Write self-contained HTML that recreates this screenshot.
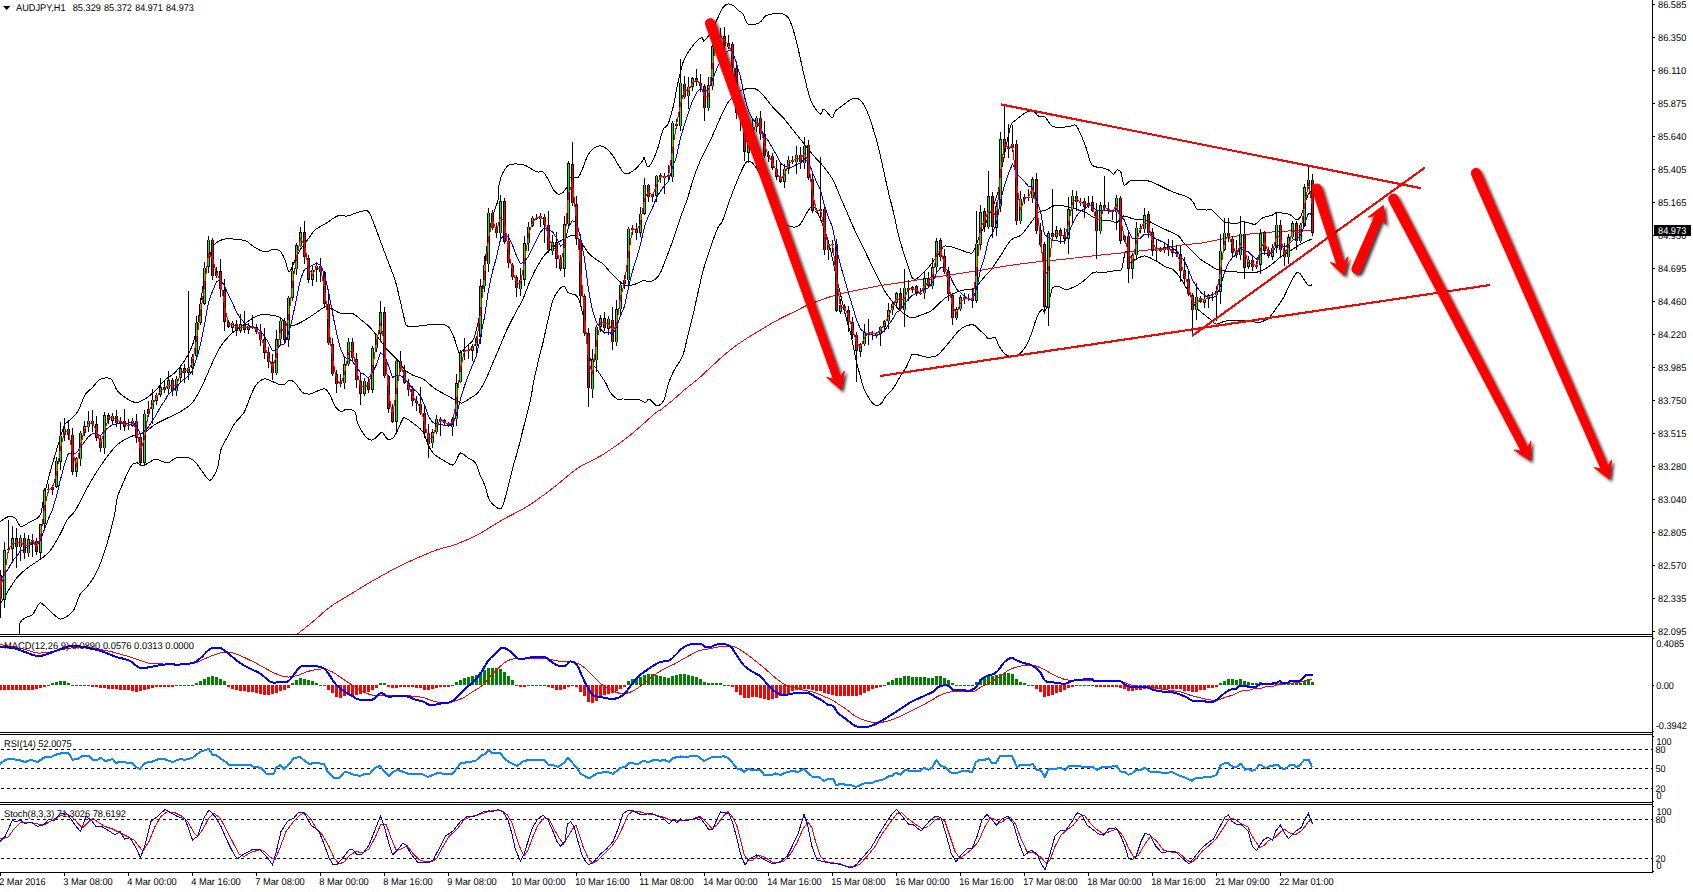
<!DOCTYPE html><html><head><meta charset="utf-8"><title>AUDJPY H1</title>
<style>html,body{margin:0;padding:0;background:#fff;overflow:hidden}svg{display:block}text{font-family:"Liberation Sans",sans-serif;text-rendering:geometricPrecision}</style></head><body>
<svg width="1693" height="892" viewBox="0 0 1693 892">
<defs><filter id="sh" x="-20%" y="-20%" width="150%" height="150%"><feDropShadow dx="2.2" dy="2.2" stdDeviation="1.6" flood-color="#000" flood-opacity="0.8"/></filter>
<clipPath id="cm"><rect x="0" y="0" width="1652" height="634"/></clipPath>
<clipPath id="c1"><rect x="0" y="637" width="1652" height="95"/></clipPath>
<clipPath id="c2"><rect x="0" y="735" width="1652" height="67"/></clipPath>
<clipPath id="c3"><rect x="0" y="805" width="1652" height="67"/></clipPath>
</defs>
<rect width="1693" height="892" fill="#fff"/>
<g clip-path="url(#cm)">
<g fill="none" stroke="#000" stroke-width="1" shape-rendering="crispEdges">
<path d="M0.0 522.0C1.2 521.2 5.0 517.7 7.5 517.0C10.0 516.3 12.8 516.4 15.0 518.0C17.2 519.6 18.5 525.8 21.0 526.5C23.5 527.2 27.2 523.4 30.0 522.0C32.8 520.6 35.7 519.5 37.5 518.0C39.3 516.5 39.9 516.5 41.0 513.0C42.1 509.5 42.8 502.5 44.0 497.0C45.2 491.5 46.5 485.8 48.0 480.0C49.5 474.2 51.3 467.8 53.0 462.0C54.7 456.2 56.2 451.0 58.0 445.0C59.8 439.0 62.4 429.8 64.0 426.0C65.6 422.2 65.2 424.3 67.5 422.0C69.8 419.7 74.6 416.5 77.5 412.0C80.4 407.5 82.5 399.1 85.0 395.0C87.5 390.9 90.0 390.1 92.5 387.5C95.0 384.9 96.9 380.9 100.0 379.5C103.1 378.1 108.1 377.1 111.0 379.0C113.9 380.9 114.8 387.7 117.5 391.0C120.2 394.3 124.4 397.1 127.5 399.0C130.6 400.9 133.1 402.5 136.0 402.5C138.9 402.5 141.8 400.9 145.0 399.0C148.2 397.1 151.7 394.2 155.0 391.0C158.3 387.8 161.7 383.1 165.0 380.0C168.3 376.9 171.7 375.8 175.0 372.5C178.3 369.2 182.1 364.6 185.0 360.0C187.9 355.4 190.4 350.8 192.5 345.0C194.6 339.2 196.1 332.5 197.5 325.0C198.9 317.5 199.8 308.3 201.0 300.0C202.2 291.7 203.5 282.5 205.0 275.0C206.5 267.5 208.3 260.2 210.0 255.0C211.7 249.8 212.5 246.7 215.0 244.0C217.5 241.3 221.2 239.8 225.0 239.0C228.8 238.2 234.0 239.2 237.5 239.5C241.0 239.8 243.1 239.7 246.0 241.0C248.9 242.3 251.8 245.7 255.0 247.5C258.2 249.3 262.1 251.7 265.0 252.0C267.9 252.3 270.0 249.7 272.5 249.5C275.0 249.3 277.9 249.2 280.0 251.0C282.1 252.8 283.5 256.5 285.0 260.0C286.5 263.5 287.5 271.6 289.0 272.0C290.5 272.4 292.2 266.2 294.0 262.5C295.8 258.8 297.8 253.8 300.0 250.0C302.2 246.2 305.0 243.3 307.5 240.0C310.0 236.7 312.1 232.7 315.0 230.0C317.9 227.3 321.2 226.3 325.0 224.0C328.8 221.7 333.8 217.3 337.5 216.0C341.2 214.7 344.2 216.6 347.5 216.0C350.8 215.4 354.2 213.3 357.5 212.5C360.8 211.7 365.0 209.8 367.5 211.0C370.0 212.2 370.4 215.2 372.5 220.0C374.6 224.8 377.5 233.3 380.0 240.0C382.5 246.7 385.0 253.3 387.5 260.0C390.0 266.7 392.9 273.3 395.0 280.0C397.1 286.7 398.5 293.8 400.0 300.0C401.5 306.2 403.0 313.3 404.0 317.5C405.0 321.7 404.8 323.4 406.0 325.0C407.2 326.6 408.2 326.9 411.0 327.0C413.8 327.1 419.3 325.9 423.0 325.5C426.7 325.1 429.7 324.7 433.0 324.5C436.3 324.3 440.3 324.0 443.0 324.5C445.7 325.0 447.2 325.3 449.0 327.5C450.8 329.7 452.3 333.3 454.0 337.5C455.7 341.7 457.5 350.4 459.0 352.5C460.5 354.6 461.5 351.2 463.0 350.0C464.5 348.8 466.3 346.7 468.0 345.0C469.7 343.3 471.5 342.9 473.0 340.0C474.5 337.1 475.8 332.5 477.0 327.5C478.2 322.5 479.5 317.1 480.5 310.0C481.5 302.9 482.2 293.8 483.0 285.0C483.8 276.2 484.2 267.5 485.5 257.5C486.8 247.5 488.8 233.3 490.5 225.0C492.2 216.7 494.2 211.7 495.5 207.5C496.8 203.3 497.4 203.8 498.0 200.0C498.6 196.2 498.2 189.6 499.0 185.0C499.8 180.4 501.3 175.8 503.0 172.5C504.7 169.2 506.7 166.4 509.0 165.0C511.3 163.6 514.2 163.9 517.0 164.0C519.8 164.1 522.8 164.5 525.5 165.5C528.2 166.5 530.9 168.9 533.0 170.0C535.1 171.1 536.3 171.7 538.0 172.0C539.7 172.3 541.3 170.8 543.0 172.0C544.7 173.2 546.3 176.2 548.0 179.0C549.7 181.8 551.3 186.5 553.0 189.0C554.7 191.5 556.3 193.4 558.0 194.0C559.7 194.6 561.3 194.0 563.0 192.5C564.7 191.0 566.8 187.5 568.0 185.0C569.2 182.5 568.8 178.8 570.5 177.5C572.2 176.2 575.9 179.2 578.0 177.5C580.1 175.8 581.3 171.2 583.0 167.5C584.7 163.8 586.2 158.2 588.0 155.0C589.8 151.8 591.9 149.5 594.0 148.0C596.1 146.5 598.3 145.8 600.5 146.0C602.7 146.2 604.9 147.3 607.0 149.0C609.1 150.7 611.0 153.2 613.0 156.0C615.0 158.8 616.9 163.0 619.0 166.0C621.1 169.0 622.8 173.5 625.5 174.0C628.2 174.5 632.6 171.3 635.5 169.0C638.4 166.7 641.6 161.9 643.0 160.0C644.4 158.1 643.2 156.3 644.0 157.5C644.8 158.7 646.5 166.6 648.0 167.0C649.5 167.4 651.3 163.2 653.0 160.0C654.7 156.8 656.3 152.5 658.0 147.5C659.7 142.5 661.3 133.9 663.0 130.0C664.7 126.1 666.3 127.8 668.0 124.0C669.7 120.2 671.3 114.4 673.0 107.5C674.7 100.6 676.3 90.0 678.0 82.5C679.7 75.0 681.3 67.5 683.0 62.5C684.7 57.5 685.9 55.8 688.0 52.5C690.1 49.2 693.2 45.0 695.5 42.5C697.8 40.0 700.6 37.8 702.0 37.5C703.4 37.2 702.6 41.8 704.0 41.0C705.4 40.2 708.2 36.4 710.5 32.5C712.8 28.6 715.9 21.7 718.0 17.5C720.1 13.3 721.3 9.8 723.0 7.5C724.7 5.2 726.2 4.2 728.0 4.0C729.8 3.8 732.2 4.8 734.0 6.0C735.8 7.2 737.5 9.7 739.0 11.0C740.5 12.3 741.5 11.8 743.0 14.0C744.5 16.2 745.3 22.5 748.0 24.0C750.7 25.5 756.1 24.3 759.0 23.0C761.9 21.7 763.3 17.5 765.5 16.0C767.7 14.5 769.1 14.3 772.0 14.0C774.9 13.7 780.2 13.2 783.0 14.0C785.8 14.8 787.2 15.9 789.0 19.0C790.8 22.1 792.3 26.9 794.0 32.5C795.7 38.1 797.3 45.4 799.0 52.5C800.7 59.6 802.3 67.9 804.0 75.0C805.7 82.1 807.5 90.0 809.0 95.0C810.5 100.0 811.1 101.8 813.0 105.0C814.9 108.2 818.7 113.3 820.5 114.0C822.3 114.7 822.1 108.4 824.0 109.0C825.9 109.6 830.1 117.2 832.0 117.5C833.9 117.8 833.2 113.4 835.5 111.0C837.8 108.6 843.2 105.0 846.0 103.0C848.8 101.0 849.9 99.7 852.0 99.0C854.1 98.3 856.6 98.2 858.5 99.0C860.4 99.8 861.8 101.3 863.5 104.0C865.2 106.7 866.8 110.7 868.5 115.0C870.2 119.3 871.8 124.6 873.5 130.0C875.2 135.4 876.8 140.8 878.5 147.5C880.2 154.2 881.8 162.5 883.5 170.0C885.2 177.5 886.8 185.4 888.5 192.5C890.2 199.6 891.8 205.4 893.5 212.5C895.2 219.6 896.8 228.3 898.5 235.0C900.2 241.7 901.8 247.1 903.5 252.5C905.2 257.9 907.1 263.3 908.5 267.5C909.9 271.7 910.8 275.6 912.0 277.5C913.2 279.4 914.5 279.4 916.0 279.0C917.5 278.6 918.9 276.9 921.0 275.0C923.1 273.1 926.0 270.4 928.5 267.5C931.0 264.6 933.9 260.4 936.0 257.5C938.1 254.6 939.5 251.9 941.0 250.0C942.5 248.1 942.9 246.4 945.0 246.0C947.1 245.6 950.4 246.7 953.5 247.5C956.6 248.3 960.4 250.1 963.5 251.0C966.6 251.9 969.9 254.0 972.0 253.0C974.1 252.0 974.7 248.0 976.0 245.0C977.3 242.0 978.3 238.8 980.0 235.0C981.7 231.2 983.8 227.5 986.0 222.5C988.2 217.5 991.4 210.4 993.5 205.0C995.6 199.6 997.1 196.2 998.5 190.0C999.9 183.8 1000.6 175.4 1002.0 167.5C1003.4 159.6 1005.5 149.6 1007.0 142.5C1008.5 135.4 1009.5 128.8 1011.0 125.0C1012.5 121.2 1013.9 121.8 1016.0 120.0C1018.1 118.2 1021.2 115.5 1023.5 114.0C1025.8 112.5 1028.3 111.5 1030.0 111.0C1031.7 110.5 1032.1 110.2 1033.5 111.0C1034.9 111.8 1036.6 115.0 1038.5 116.0C1040.4 117.0 1042.8 115.3 1045.0 117.0C1047.2 118.7 1049.3 124.2 1052.0 126.0C1054.7 127.8 1057.8 127.5 1061.0 127.5C1064.2 127.5 1068.5 126.3 1071.0 126.0C1073.5 125.7 1074.3 124.0 1076.0 125.5C1077.7 127.0 1079.3 131.3 1081.0 135.0C1082.7 138.7 1084.2 142.5 1086.0 147.5C1087.8 152.5 1089.5 161.7 1092.0 165.0C1094.5 168.3 1098.2 166.7 1101.0 167.5C1103.8 168.3 1106.4 168.9 1108.5 170.0C1110.6 171.1 1112.1 174.0 1113.5 174.0C1114.9 174.0 1115.8 170.2 1117.0 170.0C1118.2 169.8 1119.8 170.0 1121.0 172.5C1122.2 175.0 1122.5 183.6 1124.0 185.0C1125.5 186.4 1127.6 181.8 1130.0 181.0C1132.4 180.2 1135.4 180.0 1138.5 180.0C1141.6 180.0 1145.2 180.2 1148.5 181.0C1151.8 181.8 1155.2 183.5 1158.5 185.0C1161.8 186.5 1165.2 188.5 1168.5 190.0C1171.8 191.5 1175.2 192.8 1178.5 194.0C1181.8 195.2 1186.0 196.1 1188.5 197.5C1191.0 198.9 1192.1 200.6 1193.5 202.5C1194.9 204.4 1194.9 207.8 1197.0 209.0C1199.1 210.2 1203.5 209.8 1206.0 210.0C1208.5 210.2 1210.0 209.2 1211.8 210.0C1213.6 210.8 1214.8 212.8 1216.8 214.7C1218.8 216.6 1221.2 220.0 1223.5 221.4C1225.8 222.8 1228.2 222.6 1230.3 223.0C1232.4 223.4 1234.0 223.9 1236.0 223.6C1238.0 223.3 1239.9 221.5 1242.0 221.4C1244.1 221.3 1246.6 222.5 1248.7 223.0C1250.8 223.5 1253.0 224.4 1254.6 224.3C1256.1 224.2 1256.9 223.2 1258.0 222.3C1259.1 221.4 1259.8 219.6 1261.3 218.6C1262.8 217.6 1265.4 217.0 1267.2 216.4C1269.0 215.8 1270.8 215.8 1272.3 215.2C1273.8 214.5 1275.0 212.9 1276.5 212.5C1278.0 212.1 1279.7 212.8 1281.5 213.0C1283.3 213.2 1285.7 213.5 1287.4 213.9C1289.1 214.3 1290.3 214.7 1291.6 215.5C1292.9 216.3 1294.0 218.3 1295.0 219.0C1296.0 219.7 1296.5 220.1 1297.5 219.7C1298.5 219.3 1299.8 218.2 1300.8 216.4C1301.8 214.6 1302.6 211.5 1303.4 208.8C1304.2 206.1 1305.1 202.8 1305.9 200.4C1306.7 198.0 1307.6 196.1 1308.4 194.5C1309.2 192.9 1310.6 191.6 1311.0 191.0"/>
<path d="M0.0 604.5C1.2 602.4 4.6 596.6 7.5 592.0C10.4 587.4 14.2 581.0 17.5 577.0C20.8 573.0 23.8 570.9 27.5 568.0C31.2 565.1 36.2 562.3 40.0 559.5C43.8 556.7 46.7 555.2 50.0 551.0C53.3 546.8 57.1 539.8 60.0 534.5C62.9 529.2 65.0 523.4 67.5 519.5C70.0 515.6 72.1 515.6 75.0 511.0C77.9 506.4 81.7 498.1 85.0 492.0C88.3 485.9 91.7 479.9 95.0 474.5C98.3 469.1 101.7 464.1 105.0 459.5C108.3 454.9 112.1 450.1 115.0 447.0C117.9 443.9 119.6 442.8 122.5 441.0C125.4 439.2 128.8 437.5 132.5 436.0C136.2 434.5 141.2 433.9 145.0 432.0C148.8 430.1 151.2 426.8 155.0 424.5C158.8 422.2 163.5 420.0 167.5 418.0C171.5 416.0 174.8 415.1 179.0 412.5C183.2 409.9 188.6 407.1 192.5 402.5C196.4 397.9 199.2 391.7 202.5 385.0C205.8 378.3 209.6 368.8 212.5 362.5C215.4 356.2 217.1 352.1 220.0 347.5C222.9 342.9 226.7 338.3 230.0 335.0C233.3 331.7 236.7 330.0 240.0 327.5C243.3 325.0 246.7 322.1 250.0 320.0C253.3 317.9 256.7 315.8 260.0 315.0C263.3 314.2 266.7 314.6 270.0 315.0C273.3 315.4 277.1 315.8 280.0 317.5C282.9 319.2 285.0 323.8 287.5 325.0C290.0 326.2 292.1 325.8 295.0 325.0C297.9 324.2 301.7 321.9 305.0 320.0C308.3 318.1 311.7 315.7 315.0 313.5C318.3 311.3 322.1 307.8 325.0 307.0C327.9 306.2 330.0 308.0 332.5 309.0C335.0 310.0 336.7 312.2 340.0 313.0C343.3 313.8 349.2 312.5 352.5 313.5C355.8 314.5 357.1 316.7 360.0 319.0C362.9 321.3 366.7 324.0 370.0 327.5C373.3 331.0 377.1 336.2 380.0 340.0C382.9 343.8 384.6 346.7 387.5 350.0C390.4 353.3 394.6 356.7 397.5 360.0C400.4 363.3 402.5 367.5 405.0 370.0C407.5 372.5 409.5 373.5 412.5 375.0C415.5 376.5 419.2 376.7 423.0 379.0C426.8 381.3 431.3 386.2 435.5 389.0C439.7 391.8 444.4 394.0 448.0 396.0C451.6 398.0 454.7 399.8 457.0 401.0C459.3 402.2 460.0 403.3 462.0 403.0C464.0 402.7 466.3 400.8 469.0 399.0C471.7 397.2 475.2 395.7 478.0 392.5C480.8 389.3 483.0 385.0 485.5 380.0C488.0 375.0 490.5 368.3 493.0 362.5C495.5 356.7 498.0 350.8 500.5 345.0C503.0 339.2 505.2 333.3 508.0 327.5C510.8 321.7 514.5 314.8 517.0 310.0C519.5 305.2 520.8 304.0 523.0 299.0C525.2 294.0 528.0 285.7 530.5 280.0C533.0 274.3 535.5 269.3 538.0 265.0C540.5 260.7 543.0 256.9 545.5 254.0C548.0 251.1 550.5 249.7 553.0 247.5C555.5 245.3 558.0 242.8 560.5 241.0C563.0 239.2 565.8 237.9 568.0 237.0C570.2 236.1 571.9 234.8 574.0 235.5C576.1 236.2 578.2 238.2 580.5 241.0C582.8 243.8 585.5 249.5 588.0 252.5C590.5 255.5 593.0 257.1 595.5 259.0C598.0 260.9 600.5 261.8 603.0 264.0C605.5 266.2 608.2 270.0 610.5 272.5C612.8 275.0 614.9 277.1 617.0 279.0C619.1 280.9 621.2 282.8 623.0 284.0C624.8 285.2 625.9 286.0 628.0 286.0C630.1 286.0 632.8 284.9 635.5 284.0C638.2 283.1 641.8 280.8 644.0 280.5C646.2 280.2 647.1 282.2 649.0 282.0C650.9 281.8 653.6 280.6 655.5 279.0C657.4 277.4 658.8 275.7 660.5 272.5C662.2 269.3 663.4 265.4 665.5 260.0C667.6 254.6 670.5 247.1 673.0 240.0C675.5 232.9 678.2 224.2 680.5 217.5C682.8 210.8 684.9 206.2 687.0 200.0C689.1 193.8 690.8 186.7 693.0 180.0C695.2 173.3 697.6 166.7 700.5 160.0C703.4 153.3 707.2 147.1 710.5 140.0C713.8 132.9 717.6 123.8 720.5 117.5C723.4 111.2 725.1 106.7 728.0 102.5C730.9 98.3 735.1 94.8 738.0 92.5C740.9 90.2 742.6 89.6 745.5 89.0C748.4 88.4 752.6 88.0 755.5 89.0C758.4 90.0 760.1 91.9 763.0 95.0C765.9 98.1 769.7 103.8 773.0 107.5C776.3 111.2 779.7 113.8 783.0 117.5C786.3 121.2 789.7 125.8 793.0 130.0C796.3 134.2 799.7 138.3 803.0 142.5C806.3 146.7 809.7 151.1 813.0 155.0C816.3 158.9 819.7 161.8 823.0 166.0C826.3 170.2 830.1 174.8 833.0 180.0C835.9 185.2 838.3 192.5 840.5 197.5C842.7 202.5 843.8 205.0 846.0 210.0C848.2 215.0 851.0 222.0 853.5 227.5C856.0 233.0 858.5 237.8 861.0 243.0C863.5 248.2 866.0 253.3 868.5 258.5C871.0 263.7 873.5 268.9 876.0 274.0C878.5 279.1 881.0 284.7 883.5 289.0C886.0 293.3 888.5 296.7 891.0 300.0C893.5 303.3 896.0 306.5 898.5 309.0C901.0 311.5 903.8 313.5 906.0 315.0C908.2 316.5 909.5 318.0 912.0 318.0C914.5 318.0 917.8 316.2 921.0 315.0C924.2 313.8 928.1 312.8 931.0 311.0C933.9 309.2 936.0 306.2 938.5 304.0C941.0 301.8 943.1 299.4 946.0 297.5C948.9 295.6 952.7 293.8 956.0 292.5C959.3 291.2 963.1 290.1 966.0 289.5C968.9 288.9 971.4 289.9 973.5 289.0C975.6 288.1 976.4 286.3 978.5 284.0C980.6 281.7 983.9 277.3 986.0 275.0C988.1 272.7 988.5 273.3 991.0 270.0C993.5 266.7 997.7 260.0 1001.0 255.0C1004.3 250.0 1007.7 243.3 1011.0 240.0C1014.3 236.7 1017.7 237.9 1021.0 235.0C1024.3 232.1 1028.1 226.2 1031.0 222.5C1033.9 218.8 1036.0 214.6 1038.5 212.5C1041.0 210.4 1043.5 211.1 1046.0 210.0C1048.5 208.9 1050.6 206.7 1053.5 206.0C1056.4 205.3 1060.6 205.8 1063.5 206.0C1066.4 206.2 1068.5 206.8 1071.0 207.5C1073.5 208.2 1076.0 209.2 1078.5 210.0C1081.0 210.8 1083.5 211.2 1086.0 212.5C1088.5 213.8 1091.0 216.2 1093.5 217.5C1096.0 218.8 1098.1 219.4 1101.0 220.0C1103.9 220.6 1108.3 220.6 1111.0 221.0C1113.7 221.4 1114.9 223.3 1117.0 222.5C1119.1 221.7 1120.8 216.6 1123.5 216.0C1126.2 215.4 1129.8 218.3 1133.5 219.0C1137.2 219.7 1142.2 219.0 1146.0 220.0C1149.8 221.0 1152.2 223.2 1156.0 225.0C1159.8 226.8 1164.8 229.2 1168.5 231.0C1172.2 232.8 1176.0 234.1 1178.5 236.0C1181.0 237.9 1181.4 240.2 1183.5 242.5C1185.6 244.8 1188.2 247.2 1191.0 250.0C1193.8 252.8 1197.1 256.6 1200.0 259.0C1202.9 261.4 1205.6 262.6 1208.4 264.3C1211.2 266.0 1214.0 268.2 1216.8 269.3C1219.6 270.4 1222.4 270.6 1225.2 271.0C1228.0 271.4 1230.5 271.6 1233.6 271.8C1236.7 272.0 1240.3 272.2 1243.7 272.4C1247.1 272.5 1251.0 272.9 1253.8 272.7C1256.6 272.5 1258.3 271.9 1260.5 271.0C1262.7 270.1 1265.0 269.0 1267.2 267.6C1269.4 266.2 1271.7 264.4 1273.9 262.6C1276.2 260.8 1278.5 258.4 1280.7 256.7C1283.0 255.0 1285.2 253.9 1287.4 252.5C1289.6 251.1 1291.9 249.7 1294.1 248.3C1296.3 246.9 1298.5 245.3 1300.8 244.1C1303.0 242.8 1305.8 241.6 1307.6 240.8C1309.4 240.0 1311.1 239.4 1311.8 239.1"/>
<path d="M19.0 634.5C19.2 632.6 19.0 625.8 20.0 623.0C21.0 620.2 22.9 619.4 25.0 618.0C27.1 616.6 30.4 616.5 32.5 614.5C34.6 612.5 36.1 607.9 37.5 606.0C38.9 604.1 38.9 602.2 41.0 603.0C43.1 603.8 46.8 608.3 50.0 611.0C53.2 613.7 57.1 618.2 60.0 619.0C62.9 619.8 65.2 617.6 67.5 616.0C69.8 614.4 71.9 613.1 74.0 609.5C76.1 605.9 78.0 598.1 80.0 594.5C82.0 590.9 83.7 590.9 86.0 588.0C88.3 585.1 91.5 581.3 94.0 577.0C96.5 572.7 98.8 567.8 101.0 562.0C103.2 556.2 105.3 549.5 107.5 542.0C109.7 534.5 112.3 524.5 114.0 517.0C115.7 509.5 116.1 502.4 117.5 497.0C118.9 491.6 120.8 488.5 122.5 484.5C124.2 480.5 125.8 476.3 127.5 473.0C129.2 469.7 130.8 466.2 132.5 464.5C134.2 462.8 135.9 462.8 137.5 463.0C139.1 463.2 139.9 466.2 142.0 466.0C144.1 465.8 147.7 463.2 150.0 462.0C152.3 460.8 153.1 458.8 156.0 459.0C158.9 459.2 164.2 463.2 167.5 463.0C170.8 462.8 172.4 458.8 176.0 458.0C179.6 457.2 185.7 457.2 189.0 458.0C192.3 458.8 193.8 460.7 196.0 463.0C198.2 465.3 200.3 469.2 202.5 472.0C204.7 474.8 207.3 479.0 209.0 480.0C210.7 481.0 211.1 480.0 212.5 478.0C213.9 476.0 216.1 472.8 217.5 468.0C218.9 463.2 219.3 454.7 221.0 449.5C222.7 444.3 225.2 441.4 227.5 437.0C229.8 432.6 232.2 427.1 235.0 423.0C237.8 418.9 241.5 416.8 244.0 412.5C246.5 408.2 248.0 402.1 250.0 397.5C252.0 392.9 253.7 388.1 256.0 385.0C258.3 381.9 261.5 379.7 264.0 379.0C266.5 378.3 267.9 380.0 271.0 381.0C274.1 382.0 279.3 385.2 282.5 385.0C285.7 384.8 287.8 380.2 290.0 380.0C292.2 379.8 293.9 381.9 296.0 384.0C298.1 386.1 300.2 390.8 302.5 392.5C304.8 394.2 307.5 394.2 310.0 394.0C312.5 393.8 315.0 391.8 317.5 391.0C320.0 390.2 322.9 388.3 325.0 389.0C327.1 389.7 328.3 392.2 330.0 395.0C331.7 397.8 333.2 403.2 335.0 406.0C336.8 408.8 339.0 411.0 341.0 411.5C343.0 412.0 344.7 408.9 347.0 409.0C349.3 409.1 353.2 409.7 355.0 412.0C356.8 414.3 355.7 418.8 357.5 423.0C359.3 427.2 363.5 434.2 366.0 437.0C368.5 439.8 370.3 440.4 372.5 440.0C374.7 439.6 377.3 435.8 379.0 434.5C380.7 433.2 381.1 431.8 382.5 432.5C383.9 433.2 385.6 438.2 387.5 439.0C389.4 439.8 391.5 440.2 394.0 437.0C396.5 433.8 400.7 422.7 402.5 419.5C404.3 416.3 402.9 417.2 405.0 418.0C407.1 418.8 412.0 422.2 415.0 424.5C418.0 426.8 420.8 428.7 423.0 432.0C425.2 435.3 426.3 441.0 428.0 444.5C429.7 448.0 430.7 450.5 433.0 453.0C435.3 455.5 438.8 457.5 442.0 459.5C445.2 461.5 449.8 464.6 452.0 465.0C454.2 465.4 454.1 464.0 455.5 462.0C456.9 460.0 458.4 453.7 460.5 453.0C462.6 452.3 465.5 456.3 468.0 458.0C470.5 459.7 473.4 460.0 475.5 463.0C477.6 466.0 478.8 472.0 480.5 476.0C482.2 480.0 484.2 483.3 485.5 487.0C486.8 490.7 487.2 495.1 488.5 498.0C489.8 500.9 491.0 502.7 493.0 504.5C495.0 506.3 498.7 509.4 500.5 509.0C502.3 508.6 502.8 505.7 504.0 502.0C505.2 498.3 506.5 492.8 508.0 487.0C509.5 481.2 511.3 473.2 513.0 467.0C514.7 460.8 516.3 455.8 518.0 449.5C519.7 443.2 521.4 435.8 523.0 429.5C524.6 423.2 526.2 416.9 527.5 412.0C528.8 407.1 529.4 405.3 530.5 400.0C531.6 394.7 532.8 386.2 534.0 380.0C535.2 373.8 536.5 368.8 538.0 362.5C539.5 356.2 541.3 349.6 543.0 342.5C544.7 335.4 546.3 327.1 548.0 320.0C549.7 312.9 551.3 304.8 553.0 300.0C554.7 295.2 556.2 293.3 558.0 291.0C559.8 288.7 562.3 285.8 564.0 286.0C565.7 286.2 566.1 291.0 568.0 292.5C569.9 294.0 573.7 293.8 575.5 295.0C577.3 296.2 577.8 296.7 579.0 300.0C580.2 303.3 581.7 308.3 583.0 315.0C584.3 321.7 585.8 332.5 587.0 340.0C588.2 347.5 589.1 355.4 590.5 360.0C591.9 364.6 593.8 365.0 595.5 367.5C597.2 370.0 598.8 372.5 600.5 375.0C602.2 377.5 603.8 379.6 605.5 382.5C607.2 385.4 608.6 389.8 610.5 392.5C612.4 395.2 614.9 397.9 617.0 399.0C619.1 400.1 619.5 398.9 623.0 399.0C626.5 399.1 634.2 398.9 638.0 399.5C641.8 400.1 643.7 402.6 645.5 402.5C647.3 402.4 647.3 398.6 649.0 399.0C650.7 399.4 653.8 403.9 655.5 405.0C657.2 406.1 657.6 406.3 659.0 405.5C660.4 404.7 662.5 403.4 664.0 400.0C665.5 396.6 666.5 389.6 668.0 385.0C669.5 380.4 671.3 376.0 673.0 372.5C674.7 369.0 676.3 366.9 678.0 364.0C679.7 361.1 681.3 359.8 683.0 355.0C684.7 350.2 686.3 341.7 688.0 335.0C689.7 328.3 691.3 322.1 693.0 315.0C694.7 307.9 696.2 300.4 698.0 292.5C699.8 284.6 701.9 275.0 704.0 267.5C706.1 260.0 708.2 254.2 710.5 247.5C712.8 240.8 716.1 231.8 718.0 227.5C719.9 223.2 720.3 225.8 722.0 222.0C723.7 218.2 725.8 211.2 728.0 205.0C730.2 198.8 733.0 191.2 735.5 185.0C738.0 178.8 740.9 171.5 743.0 167.5C745.1 163.5 746.0 161.2 748.0 161.0C750.0 160.8 752.2 162.0 755.0 166.0C757.8 170.0 761.3 177.2 765.0 185.0C768.7 192.8 773.3 206.3 777.0 213.0C780.7 219.7 783.9 222.7 787.0 225.0C790.1 227.3 793.2 227.2 795.5 227.0C797.8 226.8 798.8 226.0 800.5 224.0C802.2 222.0 803.8 217.8 805.5 215.0C807.2 212.2 809.1 208.8 810.5 207.5C811.9 206.2 812.4 205.2 814.0 207.0C815.6 208.8 817.7 212.5 820.0 218.0C822.3 223.5 825.3 230.5 828.0 240.0C830.7 249.5 833.5 264.2 836.0 275.0C838.5 285.8 841.0 296.7 843.0 305.0C845.0 313.3 846.7 320.0 848.0 325.0C849.3 330.0 849.7 329.2 851.0 335.0C852.3 340.8 854.5 353.3 856.0 360.0C857.5 366.7 858.8 370.4 860.0 375.0C861.2 379.6 862.1 383.8 863.5 387.5C864.9 391.2 866.8 394.8 868.5 397.5C870.2 400.2 871.8 402.7 873.5 404.0C875.2 405.3 877.1 405.8 878.5 405.5C879.9 405.2 880.8 404.1 882.0 402.5C883.2 400.9 884.3 398.1 886.0 396.0C887.7 393.9 890.3 392.0 892.0 390.0C893.7 388.0 894.5 386.5 896.0 384.0C897.5 381.5 899.3 377.8 901.0 375.0C902.7 372.2 904.5 370.2 906.0 367.5C907.5 364.8 909.0 361.2 910.0 359.0C911.0 356.8 910.6 355.2 912.0 354.5C913.4 353.8 916.2 354.6 918.5 355.0C920.8 355.4 923.1 356.8 926.0 357.0C928.9 357.2 933.1 357.3 936.0 356.0C938.9 354.7 941.0 351.7 943.5 349.0C946.0 346.3 948.5 343.0 951.0 340.0C953.5 337.0 956.0 333.3 958.5 331.0C961.0 328.7 963.5 327.0 966.0 326.0C968.5 325.0 971.4 324.5 973.5 325.0C975.6 325.5 976.6 327.3 978.5 329.0C980.4 330.7 983.2 333.3 985.0 335.0C986.8 336.7 987.3 338.6 989.0 339.0C990.7 339.4 993.4 336.5 995.0 337.5C996.6 338.5 997.1 342.5 998.5 345.0C999.9 347.5 1001.8 350.7 1003.5 352.5C1005.2 354.3 1006.4 355.4 1008.5 356.0C1010.6 356.6 1013.9 356.6 1016.0 356.0C1018.1 355.4 1019.3 354.2 1021.0 352.5C1022.7 350.8 1024.3 348.9 1026.0 346.0C1027.7 343.1 1029.5 338.9 1031.0 335.0C1032.5 331.1 1033.8 326.0 1035.0 322.5C1036.2 319.0 1037.3 316.2 1038.5 314.0C1039.7 311.8 1040.9 310.0 1042.0 309.5C1043.1 309.0 1043.7 313.0 1045.0 311.0C1046.3 309.0 1048.8 301.2 1050.0 297.5C1051.2 293.8 1050.8 290.9 1052.0 289.0C1053.2 287.1 1054.7 285.9 1057.0 286.0C1059.3 286.1 1062.8 289.5 1066.0 289.5C1069.2 289.5 1073.1 287.4 1076.0 286.0C1078.9 284.6 1080.6 283.2 1083.5 281.0C1086.4 278.8 1090.2 273.9 1093.5 272.5C1096.8 271.1 1100.2 272.8 1103.5 272.5C1106.8 272.2 1110.6 271.4 1113.5 271.0C1116.4 270.6 1119.3 271.8 1121.0 270.0C1122.7 268.2 1122.7 263.2 1123.5 260.0C1124.3 256.8 1124.9 250.7 1126.0 251.0C1127.1 251.3 1128.3 260.7 1130.0 262.0C1131.7 263.3 1133.5 260.0 1136.0 259.0C1138.5 258.0 1141.7 255.7 1145.0 256.0C1148.3 256.3 1152.5 259.2 1156.0 261.0C1159.5 262.8 1163.1 265.5 1166.0 267.0C1168.9 268.5 1171.2 268.2 1173.5 270.0C1175.8 271.8 1177.9 274.6 1180.0 277.5C1182.1 280.4 1184.0 283.9 1186.0 287.5C1188.0 291.1 1190.3 295.7 1192.0 299.0C1193.7 302.3 1194.1 305.0 1196.0 307.5C1197.9 310.0 1201.0 311.9 1203.5 314.0C1206.0 316.1 1208.9 318.3 1211.0 320.0C1213.1 321.7 1214.3 323.6 1216.0 324.0C1217.7 324.4 1218.9 323.1 1221.0 322.5C1223.1 321.9 1225.6 320.8 1228.5 320.5C1231.4 320.2 1235.2 320.4 1238.5 320.5C1241.8 320.6 1245.2 320.7 1248.5 321.0C1251.8 321.3 1256.0 322.5 1258.5 322.5C1261.0 322.5 1261.8 321.8 1263.5 321.0C1265.2 320.2 1267.1 319.8 1269.0 318.0C1270.9 316.2 1272.8 313.1 1275.0 310.0C1277.2 306.9 1280.3 303.0 1282.4 299.6C1284.5 296.2 1285.7 292.9 1287.4 289.5C1289.1 286.1 1290.9 282.2 1292.4 279.4C1293.9 276.6 1295.3 273.7 1296.6 272.7C1297.9 271.7 1298.9 272.5 1300.0 273.5C1301.1 274.5 1302.1 276.8 1303.4 278.6C1304.7 280.4 1306.5 283.3 1307.6 284.5C1308.7 285.7 1309.3 285.8 1310.0 285.8C1310.7 285.9 1311.5 285.0 1311.8 284.8"/>
</g>
<path fill="none" stroke="#f00" stroke-width="1" shape-rendering="crispEdges" d="M297.5 634.0C300.0 632.0 307.1 626.5 312.5 622.0C317.9 617.5 323.8 611.6 330.0 607.0C336.2 602.4 342.5 599.1 350.0 594.5C357.5 589.9 366.7 584.2 375.0 579.5C383.3 574.8 392.0 570.0 400.0 566.0C408.0 562.0 416.7 558.2 423.0 555.5C429.3 552.8 432.6 551.3 438.0 549.5C443.4 547.7 448.8 547.0 455.5 544.5C462.2 542.0 470.1 538.7 478.0 534.5C485.9 530.3 494.7 524.2 503.0 519.5C511.3 514.8 519.7 511.2 528.0 506.0C536.3 500.8 544.7 494.3 553.0 488.0C561.3 481.7 569.7 473.6 578.0 468.0C586.3 462.4 594.7 459.7 603.0 454.5C611.3 449.3 619.2 443.9 628.0 437.0C636.8 430.1 650.1 417.5 655.5 413.0C660.9 408.5 657.6 412.2 660.5 410.0C663.4 407.8 668.8 403.5 673.0 400.0C677.2 396.5 681.3 392.5 685.5 389.0C689.7 385.5 693.8 382.6 698.0 379.0C702.2 375.4 706.3 371.3 710.5 367.5C714.7 363.7 718.8 359.6 723.0 356.0C727.2 352.4 731.3 349.1 735.5 346.0C739.7 342.9 743.8 340.2 748.0 337.5C752.2 334.8 756.3 332.5 760.5 330.0C764.7 327.5 768.8 324.8 773.0 322.5C777.2 320.2 781.3 318.1 785.5 316.0C789.7 313.9 794.7 311.7 798.0 310.0C801.3 308.3 802.6 307.3 805.5 306.0C808.4 304.7 811.8 303.4 815.5 302.0C819.2 300.6 824.2 298.8 828.0 297.5C831.8 296.2 835.0 295.3 838.0 294.5C841.0 293.7 839.2 293.9 846.0 292.5C852.8 291.1 867.7 287.9 878.5 286.0C889.3 284.1 899.8 282.8 911.0 281.0C922.2 279.2 935.2 277.2 946.0 275.5C956.8 273.8 966.0 272.6 976.0 271.0C986.0 269.4 996.0 267.5 1006.0 266.0C1016.0 264.5 1026.0 263.2 1036.0 262.0C1046.0 260.8 1056.0 260.1 1066.0 259.0C1076.0 257.9 1086.0 256.6 1096.0 255.5C1106.0 254.4 1116.0 253.6 1126.0 252.5C1136.0 251.4 1146.0 250.3 1156.0 249.0C1166.0 247.7 1178.7 245.4 1186.0 244.5C1193.3 243.6 1194.9 244.1 1200.0 243.3C1205.1 242.6 1211.2 241.1 1216.8 240.0C1222.4 238.9 1228.0 237.6 1233.6 236.6C1239.2 235.6 1244.8 234.7 1250.4 234.0C1256.0 233.3 1261.6 232.9 1267.2 232.4C1272.8 231.9 1278.4 231.5 1284.0 231.2C1289.6 230.9 1296.0 230.8 1300.8 230.7C1305.6 230.5 1310.6 230.4 1312.6 230.3"/>
<g shape-rendering="crispEdges">
<path d="M0.5 570.0V618.0M4.5 541.5V608.0M8.5 520.0V551.0M12.5 526.0V563.0M16.5 528.0V568.0M20.5 534.5V561.0M24.5 533.0V559.0M28.5 535.0V556.5M32.5 533.7V557.0M36.5 537.6V555.0M40.5 523.5V560.0M44.5 488.0V530.6M48.5 484.4V493.3M52.5 485.4V494.9M56.5 456.5V488.2M60.5 422.3V469.5M64.5 417.6V440.7M68.5 421.6V439.6M72.5 427.6V474.8M76.5 456.8V477.4M80.5 430.5V465.6M84.5 420.5V435.5M88.5 411.1V431.8M92.5 410.1V432.4M96.5 416.4V441.2M100.5 435.1V452.4M104.5 412.1V454.0M108.5 412.5V424.4M112.5 413.2V424.9M116.5 410.3V426.8M120.5 417.1V430.4M124.5 408.8V430.9M128.5 419.3V430.4M132.5 417.9V427.4M136.5 414.1V443.4M140.5 434.2V465.9M144.5 409.5V465.4M148.5 400.8V417.0M152.5 388.7V424.1M156.5 392.6V404.6M160.5 377.6V396.9M164.5 379.6V393.2M168.5 371.2V394.9M172.5 377.8V396.4M176.5 375.5V395.5M180.5 365.5V382.4M184.5 363.8V383.0M188.5 291.0V379.6M192.5 354.3V374.9M196.5 315.8V358.5M200.5 297.5V325.0M204.5 261.9V305.4M208.5 235.5V273.1M212.5 237.5V279.6M216.5 266.7V277.7M220.5 258.7V297.2M224.5 278.5V330.5M228.5 319.5V327.9M232.5 320.7V331.7M236.5 319.9V335.9M240.5 313.6V332.9M244.5 310.8V332.9M248.5 322.7V334.2M252.5 315.1V329.1M256.5 323.5V334.0M260.5 324.1V346.1M264.5 327.5V359.4M268.5 346.7V368.4M272.5 353.6V380.0M276.5 329.5V375.4M280.5 316.7V346.4M284.5 318.1V342.1M288.5 295.6V347.3M292.5 262.4V301.2M296.5 242.7V274.7M300.5 226.9V247.2M304.5 220.8V263.6M308.5 255.4V282.7M312.5 265.8V285.7M316.5 262.2V282.0M320.5 257.6V282.1M324.5 271.2V307.2M328.5 292.4V344.7M332.5 337.5V375.5M336.5 369.6V393.4M340.5 374.1V387.4M344.5 358.4V388.8M348.5 338.0V365.5M352.5 337.6V361.1M356.5 353.3V387.7M360.5 372.8V404.5M364.5 378.0V395.6M368.5 377.1V393.2M372.5 346.4V392.7M376.5 333.6V351.9M380.5 300.5V340.9M384.5 307.1V377.7M388.5 374.7V413.3M392.5 404.2V423.2M396.5 358.3V432.3M400.5 350.7V371.8M404.5 364.8V383.8M408.5 378.6V396.3M412.5 386.2V405.7M416.5 395.9V411.3M420.5 387.3V415.1M424.5 403.9V437.6M428.5 424.0V458.0M432.5 428.9V448.0M436.5 414.6V434.0M440.5 416.8V436.2M444.5 418.5V425.1M448.5 421.6V427.3M452.5 416.6V436.0M456.5 373.5V425.5M460.5 350.0V383.3M464.5 337.5V360.2M468.5 344.0V358.7M472.5 344.2V360.6M476.5 335.7V354.8M480.5 279.1V344.4M484.5 255.7V292.3M488.5 208.2V272.0M492.5 210.2V230.0M496.5 222.8V238.3M500.5 194.6V240.0M504.5 198.4V243.5M508.5 234.3V268.1M512.5 263.4V280.1M516.5 275.0V297.0M520.5 268.0V295.7M524.5 236.4V286.0M528.5 221.7V251.3M532.5 215.7V227.0M536.5 214.1V219.9M540.5 213.1V226.9M544.5 213.9V243.0M548.5 210.9V253.2M552.5 235.3V255.4M556.5 231.9V268.0M560.5 255.3V270.9M564.5 216.3V277.0M568.5 160.9V229.0M572.5 142.0V206.2M576.5 195.8V244.6M580.5 234.4V307.0M584.5 293.9V336.4M588.5 328.3V407.0M592.5 349.4V397.5M596.5 325.2V371.8M600.5 315.0V331.5M604.5 311.5V330.6M608.5 316.3V335.2M612.5 307.3V350.0M616.5 299.9V346.0M620.5 280.8V314.0M624.5 275.1V289.1M628.5 227.4V290.4M632.5 224.6V234.6M636.5 222.5V239.9M640.5 207.2V237.1M644.5 177.7V214.7M648.5 183.6V201.5M652.5 194.2V202.4M656.5 174.5V202.1M660.5 172.5V182.5M664.5 172.5V193.5M668.5 164.5V179.8M672.5 121.2V182.1M676.5 118.5V129.2M680.5 59.0V131.3M684.5 76.3V99.4M688.5 76.5V108.7M692.5 76.5V90.7M696.5 68.8V85.9M700.5 73.6V92.0M704.5 83.8V121.3M708.5 76.7V110.8M712.5 44.4V89.7M716.5 32.2V47.5M720.5 27.7V37.1M724.5 27.4V49.0M728.5 35.2V49.1M732.5 41.7V72.8M736.5 61.3V119.4M740.5 106.0V130.5M744.5 114.7V161.1M748.5 136.8V163.1M752.5 120.0V143.5M756.5 116.1V131.8M760.5 110.6V139.9M764.5 121.1V158.0M768.5 150.5V161.8M772.5 153.3V170.1M776.5 159.5V180.2M780.5 162.7V182.7M784.5 163.8V188.0M788.5 156.0V174.2M792.5 156.3V163.9M796.5 145.5V174.0M800.5 146.8V169.4M804.5 137.1V168.5M808.5 140.3V180.3M812.5 172.0V213.0M816.5 208.1V213.3M820.5 157.0V220.6M824.5 204.3V255.0M828.5 242.0V259.9M832.5 240.0V253.0M836.5 238.6V312.4M840.5 298.6V314.3M844.5 303.6V313.7M848.5 306.1V331.5M852.5 317.1V338.6M856.5 332.0V382.0M860.5 343.0V356.7M864.5 323.7V345.9M868.5 319.4V345.2M872.5 330.6V339.8M876.5 331.5V337.7M880.5 325.6V345.6M884.5 319.5V332.2M888.5 303.0V328.8M892.5 301.0V314.9M896.5 291.5V305.5M900.5 288.3V310.2M904.5 269.0V327.0M908.5 279.9V301.1M912.5 286.1V292.6M916.5 284.6V295.8M920.5 287.8V295.4M924.5 271.4V298.7M928.5 272.3V288.1M932.5 257.7V289.1M936.5 237.9V273.5M940.5 237.9V261.4M944.5 249.4V273.9M948.5 266.5V301.0M952.5 292.5V324.5M956.5 306.7V320.1M960.5 295.1V310.8M964.5 292.6V304.4M968.5 294.3V301.4M972.5 287.8V308.2M976.5 211.0V303.2M980.5 204.6V249.8M984.5 207.7V232.4M988.5 171.0V229.2M992.5 192.0V237.9M996.5 202.4V235.8M1000.5 131.8V211.7M1004.5 106.0V158.0M1008.5 124.0V157.5M1012.5 125.0V152.3M1016.5 139.5V225.1M1020.5 191.0V224.1M1024.5 193.7V204.0M1028.5 188.8V201.4M1032.5 177.0V203.0M1036.5 172.9V234.1M1040.5 223.0V246.7M1044.5 242.0V313.6M1048.5 230.8V326.0M1052.5 189.0V241.1M1056.5 226.3V238.6M1060.5 227.9V243.9M1064.5 228.1V244.3M1068.5 196.9V253.8M1072.5 189.5V224.9M1076.5 191.4V211.0M1080.5 197.5V205.6M1084.5 198.2V217.6M1088.5 196.0V208.0M1092.5 196.3V211.9M1096.5 203.3V259.0M1100.5 201.6V234.3M1104.5 176.0V211.0M1108.5 201.5V214.3M1112.5 209.8V219.9M1116.5 195.3V229.8M1120.5 195.8V243.6M1124.5 234.8V242.3M1128.5 229.6V282.9M1132.5 253.0V278.6M1136.5 222.4V259.9M1140.5 224.1V233.0M1144.5 207.5V232.5M1148.5 210.8V237.5M1152.5 227.9V255.6M1156.5 240.1V261.3M1160.5 246.7V251.6M1164.5 242.6V253.4M1168.5 239.4V255.7M1172.5 239.8V257.1M1176.5 245.1V256.8M1180.5 246.4V282.4M1184.5 256.8V284.0M1188.5 270.0V296.0M1192.5 292.8V336.0M1196.5 283.1V320.0M1200.5 296.3V303.4M1204.5 290.7V307.7M1208.5 293.8V307.6M1212.5 292.0V300.6M1216.5 285.6V321.0M1220.5 234.0V303.5M1224.5 218.0V251.2M1228.5 218.0V242.0M1232.5 236.0V257.2M1236.5 240.3V258.3M1240.5 216.0V259.7M1244.5 221.0V279.0M1248.5 256.1V269.2M1252.5 256.3V270.5M1256.5 260.9V268.8M1260.5 229.2V274.3M1264.5 230.9V255.2M1268.5 247.0V257.9M1272.5 244.0V260.0M1276.5 212.4V252.7M1280.5 220.4V258.0M1284.5 242.5V265.5M1288.5 233.7V263.5M1292.5 220.6V238.9M1296.5 221.3V249.5M1300.5 222.8V243.0M1304.5 183.8V227.1M1308.5 167.0V189.2M1312.5 173.5V235.9" stroke="#000" stroke-width="1" fill="none"/>
<path d="M-1 575.0h3v24.0h-3zM3 550.0h3v49.6h-3zM7 549.0h3v1.0h-3zM11 538.4h3v10.2h-3zM15 538.4h3v8.6h-3zM19 537.6h3v9.4h-3zM23 537.6h3v15.7h-3zM27 539.0h3v14.0h-3zM31 540.0h3v1.5h-3zM35 540.5h3v11.3h-3zM39 524.3h3v28.2h-3zM43 490.0h3v33.5h-3zM47 489.4h3v1.0h-3zM51 487.0h3v2.5h-3zM55 460.8h3v26.1h-3zM59 435.7h3v26.1h-3zM63 428.6h3v6.1h-3zM67 428.6h3v5.9h-3zM71 434.5h3v37.1h-3zM75 458.3h3v13.3h-3zM79 432.6h3v26.7h-3zM83 426.3h3v6.3h-3zM87 420.9h3v6.5h-3zM91 420.9h3v3.1h-3zM95 424.0h3v13.9h-3zM99 439.0h3v9.1h-3zM103 415.3h3v32.7h-3zM107 415.3h3v4.5h-3zM111 415.9h3v5.0h-3zM115 415.9h3v7.4h-3zM119 420.5h3v2.7h-3zM123 420.5h3v6.4h-3zM127 424.6h3v1.3h-3zM131 420.8h3v4.8h-3zM135 420.8h3v16.8h-3zM139 436.7h3v26.1h-3zM143 413.9h3v48.9h-3zM147 409.0h3v4.9h-3zM151 399.8h3v9.2h-3zM155 394.7h3v6.1h-3zM159 387.0h3v7.7h-3zM163 387.0h3v3.1h-3zM167 380.2h3v9.0h-3zM171 380.2h3v11.2h-3zM175 378.9h3v12.5h-3zM179 368.3h3v9.6h-3zM183 368.3h3v4.2h-3zM187 367.9h3v4.6h-3zM191 356.8h3v11.1h-3zM195 322.5h3v33.3h-3zM199 303.5h3v19.1h-3zM203 267.8h3v35.7h-3zM207 239.9h3v26.9h-3zM211 239.9h3v36.4h-3zM215 271.1h3v5.1h-3zM219 271.1h3v18.2h-3zM223 290.3h3v31.5h-3zM227 321.8h3v5.0h-3zM231 322.7h3v5.1h-3zM235 323.7h3v6.9h-3zM239 324.4h3v6.2h-3zM243 324.4h3v5.4h-3zM247 325.5h3v4.3h-3zM251 325.5h3v2.5h-3zM255 327.0h3v4.6h-3zM259 331.6h3v8.7h-3zM263 339.3h3v13.2h-3zM267 351.5h3v10.5h-3zM271 362.0h3v11.0h-3zM275 339.2h3v33.8h-3zM279 320.5h3v18.7h-3zM283 320.5h3v19.4h-3zM287 297.5h3v42.3h-3zM291 270.5h3v27.0h-3zM295 245.0h3v24.4h-3zM299 232.1h3v14.0h-3zM303 232.1h3v25.1h-3zM307 258.2h3v21.4h-3zM311 269.5h3v10.1h-3zM315 265.7h3v3.8h-3zM319 265.7h3v6.5h-3zM323 272.2h3v31.5h-3zM327 303.7h3v39.3h-3zM331 344.1h3v30.2h-3zM335 374.3h3v10.1h-3zM339 383.4h3v1.0h-3zM343 364.1h3v19.1h-3zM347 341.5h3v22.6h-3zM351 341.5h3v16.6h-3zM355 359.1h3v20.9h-3zM359 381.0h3v12.5h-3zM363 380.6h3v13.0h-3zM367 381.6h3v7.9h-3zM371 348.1h3v41.4h-3zM375 334.8h3v13.3h-3zM379 312.1h3v21.8h-3zM383 312.1h3v63.9h-3zM387 376.0h3v32.9h-3zM391 408.9h3v12.6h-3zM395 360.6h3v60.9h-3zM399 360.6h3v9.4h-3zM403 370.0h3v12.5h-3zM407 383.4h3v6.2h-3zM411 388.6h3v12.5h-3zM415 401.1h3v1.7h-3zM419 403.8h3v9.3h-3zM423 413.1h3v19.6h-3zM427 432.7h3v11.3h-3zM431 432.0h3v11.0h-3zM435 418.9h3v13.1h-3zM439 418.9h3v2.2h-3zM443 420.2h3v2.6h-3zM447 422.8h3v3.3h-3zM451 419.1h3v8.0h-3zM455 383.0h3v36.1h-3zM459 352.2h3v29.8h-3zM463 350.4h3v1.7h-3zM467 349.8h3v1.0h-3zM471 346.0h3v4.8h-3zM475 338.0h3v8.1h-3zM479 286.4h3v50.6h-3zM483 264.5h3v21.9h-3zM487 212.5h3v51.9h-3zM491 212.5h3v15.6h-3zM495 228.1h3v5.0h-3zM499 201.4h3v31.7h-3zM503 201.4h3v40.5h-3zM507 240.9h3v22.5h-3zM511 264.5h3v12.5h-3zM515 277.0h3v11.2h-3zM519 279.7h3v9.4h-3zM523 243.3h3v36.4h-3zM527 226.6h3v16.7h-3zM531 217.5h3v8.1h-3zM535 217.5h3v1.0h-3zM539 215.7h3v3.7h-3zM543 216.7h3v8.0h-3zM547 224.7h3v25.7h-3zM551 242.1h3v9.3h-3zM555 242.1h3v16.8h-3zM559 259.0h3v9.5h-3zM563 224.2h3v44.3h-3zM567 163.1h3v61.1h-3zM571 164.1h3v39.1h-3zM575 204.2h3v34.4h-3zM579 239.6h3v56.7h-3zM583 296.3h3v36.7h-3zM587 333.0h3v55.4h-3zM591 359.0h3v30.4h-3zM595 326.6h3v33.4h-3zM599 318.2h3v8.4h-3zM603 318.2h3v10.2h-3zM607 318.5h3v10.0h-3zM611 319.5h3v22.7h-3zM615 309.4h3v32.8h-3zM619 284.6h3v24.8h-3zM623 280.4h3v3.2h-3zM627 228.7h3v51.6h-3zM631 228.2h3v1.5h-3zM635 229.2h3v4.2h-3zM639 213.6h3v18.9h-3zM643 184.8h3v28.8h-3zM647 184.8h3v12.4h-3zM651 195.4h3v1.7h-3zM655 175.6h3v19.9h-3zM659 174.6h3v2.8h-3zM663 176.0h3v2.3h-3zM667 175.0h3v2.0h-3zM671 122.8h3v54.2h-3zM675 123.8h3v2.4h-3zM679 82.5h3v43.7h-3zM683 83.5h3v13.6h-3zM687 86.6h3v9.5h-3zM691 78.0h3v8.6h-3zM695 78.0h3v3.8h-3zM699 82.8h3v3.4h-3zM703 86.2h3v21.8h-3zM707 85.2h3v22.8h-3zM711 46.2h3v39.9h-3zM715 36.6h3v8.7h-3zM719 35.6h3v1.0h-3zM723 36.1h3v9.9h-3zM727 43.1h3v3.9h-3zM731 44.1h3v23.2h-3zM735 68.2h3v44.9h-3zM739 113.2h3v5.5h-3zM743 118.6h3v33.2h-3zM747 140.9h3v11.9h-3zM751 126.9h3v13.0h-3zM755 117.6h3v9.3h-3zM759 117.6h3v16.5h-3zM763 134.1h3v21.8h-3zM767 154.9h3v1.6h-3zM771 155.5h3v12.3h-3zM775 168.7h3v7.8h-3zM779 176.5h3v5.0h-3zM783 168.6h3v12.9h-3zM787 159.7h3v8.9h-3zM791 159.7h3v2.3h-3zM795 154.6h3v7.4h-3zM799 154.6h3v7.4h-3zM803 145.5h3v17.5h-3zM807 144.5h3v33.1h-3zM811 178.6h3v32.3h-3zM815 210.5h3v1.4h-3zM819 208.5h3v2.0h-3zM823 208.5h3v41.7h-3zM827 243.6h3v6.6h-3zM831 243.5h3v1.0h-3zM835 243.5h3v67.2h-3zM839 304.8h3v7.0h-3zM843 305.8h3v4.2h-3zM847 310.0h3v12.0h-3zM851 322.0h3v12.6h-3zM855 334.6h3v16.0h-3zM859 344.1h3v7.5h-3zM863 331.5h3v12.6h-3zM867 332.5h3v1.0h-3zM871 333.1h3v1.0h-3zM875 333.9h3v1.0h-3zM879 326.7h3v7.2h-3zM883 321.3h3v5.4h-3zM887 310.2h3v11.1h-3zM891 303.6h3v6.6h-3zM895 293.3h3v9.3h-3zM899 293.3h3v15.8h-3zM903 287.5h3v22.5h-3zM907 287.5h3v2.3h-3zM911 287.3h3v2.5h-3zM915 286.3h3v6.5h-3zM919 292.8h3v1.0h-3zM923 278.2h3v14.9h-3zM927 278.2h3v7.7h-3zM931 267.4h3v18.6h-3zM935 241.3h3v26.0h-3zM939 240.3h3v16.7h-3zM943 256.0h3v16.4h-3zM947 271.4h3v23.0h-3zM951 295.4h3v22.9h-3zM955 309.3h3v9.0h-3zM959 297.0h3v12.3h-3zM963 297.0h3v2.2h-3zM967 298.2h3v1.0h-3zM971 298.2h3v2.7h-3zM975 243.7h3v57.2h-3zM979 212.1h3v32.5h-3zM983 211.1h3v15.8h-3zM987 196.3h3v30.7h-3zM991 196.3h3v30.6h-3zM995 206.3h3v21.6h-3zM999 139.1h3v67.3h-3zM1003 139.1h3v9.5h-3zM1007 147.6h3v1.0h-3zM1011 143.5h3v4.5h-3zM1015 143.5h3v77.8h-3zM1019 198.8h3v22.5h-3zM1023 197.1h3v1.7h-3zM1027 197.1h3v1.0h-3zM1031 179.4h3v18.7h-3zM1035 179.4h3v51.7h-3zM1039 230.1h3v15.1h-3zM1043 244.2h3v62.4h-3zM1047 233.4h3v74.1h-3zM1051 233.4h3v3.4h-3zM1055 230.1h3v6.8h-3zM1059 230.1h3v6.3h-3zM1063 235.4h3v3.1h-3zM1067 209.3h3v29.2h-3zM1071 195.9h3v13.4h-3zM1075 195.9h3v6.1h-3zM1079 201.8h3v1.0h-3zM1083 200.8h3v5.8h-3zM1087 203.1h3v2.4h-3zM1091 202.1h3v8.6h-3zM1095 210.7h3v20.6h-3zM1099 205.2h3v26.1h-3zM1103 205.2h3v3.1h-3zM1107 209.3h3v1.6h-3zM1111 210.9h3v1.2h-3zM1115 197.9h3v14.2h-3zM1119 197.9h3v42.8h-3zM1123 235.8h3v3.8h-3zM1127 235.8h3v32.7h-3zM1131 255.0h3v13.6h-3zM1135 227.8h3v27.2h-3zM1139 227.8h3v1.3h-3zM1143 215.2h3v13.9h-3zM1147 214.2h3v19.2h-3zM1151 232.4h3v18.2h-3zM1155 249.6h3v1.0h-3zM1159 249.6h3v1.0h-3zM1163 247.2h3v2.8h-3zM1167 246.2h3v3.9h-3zM1171 249.1h3v3.5h-3zM1175 252.6h3v1.4h-3zM1179 254.0h3v17.3h-3zM1183 270.2h3v8.6h-3zM1187 278.8h3v15.3h-3zM1191 295.1h3v15.0h-3zM1195 296.5h3v13.7h-3zM1199 297.5h3v4.3h-3zM1203 298.8h3v4.0h-3zM1207 295.4h3v3.4h-3zM1211 294.0h3v1.4h-3zM1215 291.4h3v3.6h-3zM1219 250.8h3v40.7h-3zM1223 232.7h3v17.0h-3zM1227 232.7h3v5.2h-3zM1231 238.9h3v13.7h-3zM1235 251.6h3v3.6h-3zM1239 233.6h3v21.7h-3zM1243 233.6h3v34.0h-3zM1247 259.7h3v6.9h-3zM1251 259.7h3v7.5h-3zM1255 264.8h3v2.4h-3zM1259 233.1h3v31.7h-3zM1263 232.1h3v18.4h-3zM1267 249.5h3v6.1h-3zM1271 247.9h3v8.7h-3zM1275 224.9h3v23.0h-3zM1279 224.9h3v25.1h-3zM1283 250.0h3v7.3h-3zM1287 237.2h3v20.1h-3zM1291 223.2h3v14.0h-3zM1295 223.2h3v17.9h-3zM1299 224.8h3v16.3h-3zM1303 187.3h3v38.5h-3zM1307 179.8h3v7.6h-3zM1311 179.8h3v53.1h-3z" fill="#000"/>
<path d="M4 550.5h1v48.6h-1zM8 549.5h1v0.5h-1zM12 538.9h1v9.2h-1zM20 538.1h1v8.4h-1zM28 539.5h1v13.0h-1zM40 524.8h1v27.2h-1zM44 490.5h1v32.5h-1zM48 489.9h1v0.5h-1zM52 487.5h1v1.5h-1zM56 461.3h1v25.1h-1zM60 436.2h1v25.1h-1zM64 429.1h1v5.1h-1zM76 458.8h1v12.3h-1zM80 433.1h1v25.7h-1zM84 426.8h1v5.3h-1zM88 421.4h1v5.5h-1zM104 415.8h1v31.7h-1zM112 416.4h1v4.0h-1zM120 421.0h1v1.7h-1zM128 425.1h1v0.5h-1zM132 421.3h1v3.8h-1zM144 414.4h1v47.9h-1zM148 409.5h1v3.9h-1zM152 400.3h1v8.2h-1zM156 395.2h1v5.1h-1zM160 387.5h1v6.7h-1zM168 380.7h1v8.0h-1zM176 379.4h1v11.5h-1zM180 368.8h1v8.6h-1zM188 368.4h1v3.6h-1zM192 357.3h1v10.1h-1zM196 323.0h1v32.3h-1zM200 304.0h1v18.1h-1zM204 268.3h1v34.7h-1zM208 240.4h1v25.9h-1zM216 271.6h1v4.1h-1zM232 323.2h1v4.1h-1zM240 324.9h1v5.2h-1zM248 326.0h1v3.3h-1zM276 339.7h1v32.8h-1zM280 321.0h1v17.7h-1zM288 298.0h1v41.3h-1zM292 271.0h1v26.0h-1zM296 245.5h1v23.4h-1zM300 232.6h1v13.0h-1zM312 270.0h1v9.1h-1zM316 266.2h1v2.8h-1zM344 364.6h1v18.1h-1zM348 342.0h1v21.6h-1zM364 381.1h1v12.0h-1zM372 348.6h1v40.4h-1zM376 335.3h1v12.3h-1zM380 312.6h1v20.8h-1zM396 361.1h1v59.9h-1zM432 432.5h1v10.0h-1zM436 419.4h1v12.1h-1zM452 419.6h1v7.0h-1zM456 383.5h1v35.1h-1zM460 352.7h1v28.8h-1zM464 350.9h1v0.7h-1zM468 350.3h1v0.5h-1zM472 346.5h1v3.8h-1zM476 338.5h1v7.1h-1zM480 286.9h1v49.6h-1zM484 265.0h1v20.9h-1zM488 213.0h1v50.9h-1zM500 201.9h1v30.7h-1zM520 280.2h1v8.4h-1zM524 243.8h1v35.4h-1zM528 227.1h1v15.7h-1zM532 218.0h1v7.1h-1zM540 216.2h1v2.7h-1zM552 242.6h1v8.3h-1zM564 224.7h1v43.3h-1zM568 163.6h1v60.1h-1zM592 359.5h1v29.4h-1zM596 327.1h1v32.4h-1zM600 318.7h1v7.4h-1zM608 319.0h1v9.0h-1zM616 309.9h1v31.8h-1zM620 285.1h1v23.8h-1zM624 280.9h1v2.2h-1zM628 229.2h1v50.6h-1zM632 228.7h1v0.5h-1zM640 214.1h1v17.9h-1zM644 185.3h1v27.8h-1zM652 195.9h1v0.7h-1zM656 176.1h1v18.9h-1zM664 176.5h1v1.3h-1zM672 123.3h1v53.2h-1zM680 83.0h1v42.7h-1zM688 87.1h1v8.5h-1zM692 78.5h1v7.6h-1zM708 85.7h1v21.8h-1zM712 46.7h1v38.9h-1zM716 37.1h1v7.7h-1zM728 43.6h1v2.9h-1zM748 141.4h1v10.9h-1zM752 127.4h1v12.0h-1zM756 118.1h1v8.3h-1zM784 169.1h1v11.9h-1zM788 160.2h1v7.9h-1zM796 155.1h1v6.4h-1zM804 146.0h1v16.5h-1zM816 211.0h1v0.5h-1zM820 209.0h1v1.0h-1zM828 244.1h1v5.6h-1zM832 244.0h1v0.5h-1zM840 305.3h1v6.0h-1zM860 344.6h1v6.5h-1zM864 332.0h1v11.6h-1zM872 333.6h1v0.5h-1zM876 334.4h1v0.5h-1zM880 327.2h1v6.2h-1zM884 321.8h1v4.4h-1zM888 310.7h1v10.1h-1zM892 304.1h1v5.6h-1zM896 293.8h1v8.3h-1zM904 288.0h1v21.5h-1zM912 287.8h1v1.5h-1zM924 278.7h1v13.9h-1zM932 267.9h1v17.6h-1zM936 241.8h1v25.0h-1zM956 309.8h1v8.0h-1zM960 297.5h1v11.3h-1zM968 298.7h1v0.5h-1zM976 244.2h1v56.2h-1zM980 212.6h1v31.5h-1zM988 196.8h1v29.7h-1zM996 206.8h1v20.6h-1zM1000 139.6h1v66.3h-1zM1012 144.0h1v3.5h-1zM1020 199.3h1v21.5h-1zM1024 197.6h1v0.7h-1zM1028 197.6h1v0.5h-1zM1032 179.9h1v17.7h-1zM1048 233.9h1v73.1h-1zM1056 230.6h1v5.8h-1zM1068 209.8h1v28.2h-1zM1072 196.4h1v12.4h-1zM1080 202.3h1v0.5h-1zM1088 203.6h1v1.4h-1zM1100 205.7h1v25.1h-1zM1116 198.4h1v13.2h-1zM1124 236.3h1v2.8h-1zM1132 255.5h1v12.6h-1zM1136 228.3h1v26.2h-1zM1144 215.7h1v12.9h-1zM1156 250.1h1v0.5h-1zM1164 247.7h1v1.8h-1zM1196 297.0h1v12.7h-1zM1204 299.3h1v3.0h-1zM1208 295.9h1v2.4h-1zM1212 294.5h1v0.5h-1zM1216 291.9h1v2.6h-1zM1220 251.3h1v39.7h-1zM1224 233.2h1v16.0h-1zM1240 234.1h1v20.7h-1zM1248 260.2h1v5.9h-1zM1256 265.3h1v1.4h-1zM1260 233.6h1v30.7h-1zM1272 248.4h1v7.7h-1zM1276 225.4h1v22.0h-1zM1288 237.7h1v19.1h-1zM1292 223.7h1v13.0h-1zM1300 225.3h1v15.3h-1zM1304 187.8h1v37.5h-1zM1308 180.3h1v6.6h-1z" fill="#0f0"/>
<path d="M0 575.5h1v23.0h-1zM16 538.9h1v7.6h-1zM24 538.1h1v14.7h-1zM32 540.5h1v0.5h-1zM36 541.0h1v10.3h-1zM68 429.1h1v4.9h-1zM72 435.0h1v36.1h-1zM92 421.4h1v2.1h-1zM96 424.5h1v12.9h-1zM100 439.5h1v8.1h-1zM108 415.8h1v3.5h-1zM116 416.4h1v6.4h-1zM124 421.0h1v5.4h-1zM136 421.3h1v15.8h-1zM140 437.2h1v25.1h-1zM164 387.5h1v2.1h-1zM172 380.7h1v10.2h-1zM184 368.8h1v3.2h-1zM212 240.4h1v35.4h-1zM220 271.6h1v17.2h-1zM224 290.8h1v30.5h-1zM228 322.3h1v4.0h-1zM236 324.2h1v5.9h-1zM244 324.9h1v4.4h-1zM252 326.0h1v1.5h-1zM256 327.5h1v3.6h-1zM260 332.1h1v7.7h-1zM264 339.8h1v12.2h-1zM268 352.0h1v9.5h-1zM272 362.5h1v10.0h-1zM284 321.0h1v18.4h-1zM304 232.6h1v24.1h-1zM308 258.7h1v20.4h-1zM320 266.2h1v5.5h-1zM324 272.7h1v30.5h-1zM328 304.2h1v38.3h-1zM332 344.6h1v29.2h-1zM336 374.8h1v9.1h-1zM340 383.9h1v0.5h-1zM352 342.0h1v15.6h-1zM356 359.6h1v19.9h-1zM360 381.5h1v11.5h-1zM368 382.1h1v6.9h-1zM384 312.6h1v62.9h-1zM388 376.5h1v31.9h-1zM392 409.4h1v11.6h-1zM400 361.1h1v8.4h-1zM404 370.5h1v11.5h-1zM408 383.9h1v5.2h-1zM412 389.1h1v11.5h-1zM416 401.6h1v0.7h-1zM420 404.3h1v8.3h-1zM424 413.6h1v18.6h-1zM428 433.2h1v10.3h-1zM440 419.4h1v1.2h-1zM444 420.7h1v1.6h-1zM448 423.3h1v2.3h-1zM492 213.0h1v14.6h-1zM496 228.6h1v4.0h-1zM504 201.9h1v39.5h-1zM508 241.4h1v21.5h-1zM512 265.0h1v11.5h-1zM516 277.5h1v10.2h-1zM536 218.0h1v0.5h-1zM544 217.2h1v7.0h-1zM548 225.2h1v24.7h-1zM556 242.6h1v15.8h-1zM560 259.5h1v8.5h-1zM572 164.6h1v38.1h-1zM576 204.7h1v33.4h-1zM580 240.1h1v55.7h-1zM584 296.8h1v35.7h-1zM588 333.5h1v54.4h-1zM604 318.7h1v9.2h-1zM612 320.0h1v21.7h-1zM636 229.7h1v3.2h-1zM648 185.3h1v11.4h-1zM660 175.1h1v1.8h-1zM668 175.5h1v1.0h-1zM676 124.3h1v1.4h-1zM684 84.0h1v12.6h-1zM696 78.5h1v2.8h-1zM700 83.3h1v2.4h-1zM704 86.7h1v20.8h-1zM720 36.1h1v0.5h-1zM724 36.6h1v8.9h-1zM732 44.6h1v22.2h-1zM736 68.7h1v43.9h-1zM740 113.7h1v4.5h-1zM744 119.1h1v32.2h-1zM760 118.1h1v15.5h-1zM764 134.6h1v20.8h-1zM768 155.4h1v0.6h-1zM772 156.0h1v11.3h-1zM776 169.2h1v6.8h-1zM780 177.0h1v4.0h-1zM792 160.2h1v1.3h-1zM800 155.1h1v6.4h-1zM808 145.0h1v32.1h-1zM812 179.1h1v31.3h-1zM824 209.0h1v40.7h-1zM836 244.0h1v66.2h-1zM844 306.3h1v3.2h-1zM848 310.5h1v11.0h-1zM852 322.5h1v11.6h-1zM856 335.1h1v15.0h-1zM868 333.0h1v0.5h-1zM900 293.8h1v14.8h-1zM908 288.0h1v1.3h-1zM916 286.8h1v5.5h-1zM920 293.3h1v0.5h-1zM928 278.7h1v6.7h-1zM940 240.8h1v15.7h-1zM944 256.5h1v15.4h-1zM948 271.9h1v22.0h-1zM952 295.9h1v21.9h-1zM964 297.5h1v1.2h-1zM972 298.7h1v1.7h-1zM984 211.6h1v14.8h-1zM992 196.8h1v29.6h-1zM1004 139.6h1v8.5h-1zM1008 148.1h1v0.5h-1zM1016 144.0h1v76.8h-1zM1036 179.9h1v50.7h-1zM1040 230.6h1v14.1h-1zM1044 244.7h1v61.4h-1zM1052 233.9h1v2.4h-1zM1060 230.6h1v5.3h-1zM1064 235.9h1v2.1h-1zM1076 196.4h1v5.1h-1zM1084 201.3h1v4.8h-1zM1092 202.6h1v7.6h-1zM1096 211.2h1v19.6h-1zM1104 205.7h1v2.1h-1zM1108 209.8h1v0.6h-1zM1112 211.4h1v0.5h-1zM1120 198.4h1v41.8h-1zM1128 236.3h1v31.7h-1zM1140 228.3h1v0.5h-1zM1148 214.7h1v18.2h-1zM1152 232.9h1v17.2h-1zM1160 250.1h1v0.5h-1zM1168 246.7h1v2.9h-1zM1172 249.6h1v2.5h-1zM1176 253.1h1v0.5h-1zM1180 254.5h1v16.3h-1zM1184 270.7h1v7.6h-1zM1188 279.3h1v14.3h-1zM1192 295.6h1v14.0h-1zM1200 298.0h1v3.3h-1zM1228 233.2h1v4.2h-1zM1232 239.4h1v12.7h-1zM1236 252.1h1v2.6h-1zM1244 234.1h1v33.0h-1zM1252 260.2h1v6.5h-1zM1264 232.6h1v17.4h-1zM1268 250.0h1v5.1h-1zM1280 225.4h1v24.1h-1zM1284 250.5h1v6.3h-1zM1296 223.7h1v16.9h-1zM1312 180.3h1v52.1h-1z" fill="#f00"/>
</g>
<polyline fill="none" stroke="#00f" stroke-width="1" shape-rendering="crispEdges" points="0.5,580.3 4.5,574.1 8.5,568.4 12.5,561.0 16.5,556.5 20.5,550.8 24.5,549.5 28.5,545.7 32.5,543.4 36.5,545.1 40.5,540.5 44.5,529.1 48.5,518.8 52.5,509.6 56.5,496.0 60.5,479.4 64.5,464.1 68.5,453.2 72.5,453.8 76.5,453.0 80.5,447.3 84.5,441.8 88.5,436.7 92.5,433.5 96.5,433.7 100.5,435.8 104.5,430.4 108.5,427.5 112.5,424.7 116.5,424.1 120.5,423.0 124.5,423.3 128.5,423.0 132.5,422.2 136.5,425.9 140.5,434.6 144.5,431.2 148.5,426.8 152.5,420.8 156.5,414.2 160.5,406.8 164.5,401.1 168.5,394.0 172.5,391.1 176.5,387.3 180.5,382.2 184.5,379.1 188.5,375.8 192.5,370.8 196.5,358.9 200.5,344.7 204.5,324.7 208.5,302.0 212.5,291.2 216.5,281.8 220.5,279.2 224.5,286.1 228.5,295.0 232.5,303.0 236.5,312.1 240.5,318.1 244.5,323.0 248.5,325.4 252.5,326.9 256.5,328.1 260.5,331.0 264.5,336.2 268.5,342.7 272.5,350.7 276.5,349.9 280.5,344.7 284.5,343.9 288.5,333.4 292.5,317.8 296.5,298.5 300.5,279.3 304.5,269.3 308.5,267.5 312.5,265.1 316.5,263.3 320.5,265.0 324.5,274.4 328.5,291.6 332.5,313.0 336.5,332.7 340.5,348.8 344.5,357.6 348.5,358.7 352.5,361.4 356.5,366.6 360.5,372.7 364.5,374.5 368.5,378.1 372.5,372.3 376.5,364.7 380.5,352.7 384.5,355.8 388.5,365.7 392.5,377.6 396.5,375.2 400.5,375.4 404.5,378.9 408.5,383.1 412.5,388.3 416.5,391.5 420.5,396.1 424.5,405.0 428.5,416.2 432.5,422.3 436.5,423.8 440.5,424.8 444.5,425.2 448.5,425.8 452.5,424.2 456.5,414.4 460.5,399.1 464.5,386.0 468.5,375.0 472.5,365.1 476.5,355.5 480.5,336.8 484.5,317.1 488.5,290.2 492.5,271.4 496.5,257.2 500.5,239.3 504.5,234.4 508.5,237.2 512.5,245.1 516.5,255.8 520.5,263.9 524.5,262.0 528.5,256.1 532.5,248.3 536.5,240.2 540.5,232.2 544.5,227.5 548.5,230.0 552.5,231.7 556.5,238.1 560.5,246.3 564.5,243.4 568.5,226.8 572.5,220.6 576.5,222.7 580.5,237.2 584.5,258.5 588.5,289.7 592.5,310.7 596.5,322.0 600.5,328.6 604.5,333.2 608.5,332.0 612.5,334.0 616.5,327.3 620.5,315.8 624.5,306.3 628.5,287.4 632.5,271.2 636.5,258.6 640.5,244.2 644.5,226.4 648.5,215.7 652.5,207.7 656.5,197.8 660.5,191.1 664.5,185.6 668.5,181.8 672.5,167.5 676.5,156.5 680.5,137.4 684.5,124.8 688.5,112.5 692.5,100.8 696.5,92.7 700.5,88.2 704.5,91.0 708.5,89.2 712.5,79.9 716.5,69.4 720.5,60.6 724.5,55.3 728.5,50.2 732.5,51.6 736.5,63.8 740.5,77.0 744.5,96.6 748.5,110.9 752.5,119.2 756.5,122.9 760.5,128.3 764.5,136.0 768.5,141.3 772.5,148.0 776.5,155.2 780.5,162.9 784.5,166.6 788.5,167.1 792.5,167.0 796.5,164.4 800.5,163.6 804.5,158.9 808.5,161.9 812.5,172.4 816.5,181.9 820.5,189.8 824.5,205.7 828.5,217.6 832.5,227.0 836.5,249.1 840.5,265.3 844.5,279.1 848.5,292.8 852.5,306.3 856.5,319.7 860.5,329.0 864.5,332.6 868.5,334.3 872.5,335.2 876.5,335.5 880.5,333.6 884.5,330.4 888.5,325.0 892.5,319.3 896.5,312.4 900.5,310.1 904.5,303.7 908.5,299.0 912.5,295.1 916.5,293.4 920.5,292.6 924.5,289.0 928.5,287.8 932.5,282.7 936.5,272.9 940.5,267.9 944.5,267.2 948.5,271.9 952.5,281.7 956.5,289.0 960.5,292.6 964.5,296.3 968.5,299.0 972.5,300.8 976.5,288.5 980.5,270.1 984.5,257.2 988.5,240.1 992.5,232.9 996.5,223.1 1000.5,200.9 1004.5,185.3 1008.5,173.7 1012.5,163.8 1016.5,173.1 1020.5,177.5 1024.5,181.5 1028.5,186.4 1032.5,187.5 1036.5,199.1 1040.5,211.4 1044.5,234.8 1048.5,237.3 1052.5,240.2 1056.5,240.6 1060.5,241.5 1064.5,241.7 1068.5,233.8 1072.5,223.6 1076.5,216.0 1080.5,211.4 1084.5,208.6 1088.5,206.0 1092.5,205.8 1096.5,210.9 1100.5,210.3 1104.5,210.6 1108.5,211.1 1112.5,211.6 1116.5,208.7 1120.5,215.5 1124.5,220.2 1128.5,231.5 1132.5,238.8 1136.5,238.6 1140.5,238.1 1144.5,234.1 1148.5,234.0 1152.5,236.8 1156.5,239.1 1160.5,241.0 1164.5,242.9 1168.5,245.6 1172.5,248.2 1176.5,250.6 1180.5,255.6 1184.5,261.3 1188.5,269.7 1192.5,280.3 1196.5,286.2 1200.5,292.0 1204.5,295.6 1208.5,297.2 1212.5,297.4 1216.5,296.3 1220.5,285.9 1224.5,272.6 1228.5,262.7 1232.5,257.6 1236.5,254.5 1240.5,247.8 1244.5,250.4 1248.5,251.9 1252.5,256.0 1256.5,259.1 1260.5,254.3 1264.5,253.5 1268.5,253.8 1272.5,252.5 1276.5,245.6 1280.5,245.5 1284.5,247.3 1288.5,244.9 1292.5,240.1 1296.5,239.6 1300.5,235.8 1304.5,224.4 1308.5,213.1 1312.5,214.9"/>
<polyline fill="none" stroke="#f00" stroke-width="1" shape-rendering="crispEdges" points="0.5,587.0 4.5,574.5 8.5,549.5 12.5,543.7 16.5,542.7 20.5,542.3 24.5,545.5 28.5,546.1 32.5,540.2 36.5,546.6 40.5,538.0 44.5,507.1 48.5,489.7 52.5,488.2 56.5,473.9 60.5,448.3 64.5,432.2 68.5,431.6 72.5,453.1 76.5,465.0 80.5,445.5 84.5,429.5 88.5,423.6 92.5,422.5 96.5,431.0 100.5,443.0 104.5,431.7 108.5,417.6 112.5,417.9 116.5,419.6 120.5,421.9 124.5,423.7 128.5,425.8 132.5,422.7 136.5,429.2 140.5,450.2 144.5,438.4 148.5,411.5 152.5,404.4 156.5,397.3 160.5,390.9 164.5,388.6 168.5,385.2 172.5,385.8 176.5,385.2 180.5,373.6 184.5,370.4 188.5,370.2 192.5,362.4 196.5,339.7 200.5,313.0 204.5,285.6 208.5,253.8 212.5,258.0 216.5,273.7 220.5,280.2 224.5,305.5 228.5,324.3 232.5,324.8 236.5,326.7 240.5,327.5 244.5,327.1 248.5,327.6 252.5,326.7 256.5,329.8 260.5,335.9 264.5,346.4 268.5,357.3 272.5,367.5 276.5,356.1 280.5,329.8 284.5,330.2 288.5,318.7 292.5,284.0 296.5,257.8 300.5,238.6 304.5,244.6 308.5,268.4 312.5,274.6 316.5,267.6 320.5,269.0 324.5,288.0 328.5,323.4 332.5,358.7 336.5,379.3 340.5,384.3 344.5,374.1 348.5,352.8 352.5,349.8 356.5,369.1 360.5,386.8 364.5,387.1 368.5,385.0 372.5,368.8 376.5,341.5 380.5,323.5 384.5,344.0 388.5,392.4 392.5,415.2 396.5,391.0 400.5,365.3 404.5,376.2 408.5,386.0 412.5,395.3 416.5,402.0 420.5,408.0 424.5,422.9 428.5,438.4 432.5,438.0 436.5,425.5 440.5,420.0 444.5,422.0 448.5,424.4 452.5,422.6 456.5,401.0 460.5,367.6 464.5,351.3 468.5,350.1 472.5,347.9 476.5,342.0 480.5,312.2 484.5,275.4 488.5,238.5 492.5,220.3 496.5,230.6 500.5,217.3 504.5,221.7 508.5,252.7 512.5,270.2 516.5,282.5 520.5,283.9 524.5,261.5 528.5,235.0 532.5,222.1 536.5,218.0 540.5,217.1 544.5,220.2 548.5,237.6 552.5,246.3 556.5,250.5 560.5,263.7 564.5,246.3 568.5,193.6 572.5,183.1 576.5,220.9 580.5,267.5 584.5,314.7 588.5,360.7 592.5,373.7 596.5,342.8 600.5,322.4 604.5,323.4 608.5,323.5 612.5,330.4 616.5,325.8 620.5,297.0 624.5,282.5 628.5,254.6 632.5,228.5 636.5,230.8 640.5,223.5 644.5,199.2 648.5,190.9 652.5,196.3 656.5,185.5 660.5,176.4 664.5,176.7 668.5,176.5 672.5,149.9 676.5,124.5 680.5,104.4 684.5,89.8 688.5,91.8 692.5,82.3 696.5,79.9 700.5,84.0 704.5,97.1 708.5,96.6 712.5,65.7 716.5,41.4 720.5,36.3 724.5,41.0 728.5,44.5 732.5,55.2 736.5,90.2 740.5,115.9 744.5,135.2 748.5,146.4 752.5,133.9 756.5,122.3 760.5,125.8 764.5,145.0 768.5,156.2 772.5,162.1 776.5,172.1 780.5,179.0 784.5,175.1 788.5,164.2 792.5,160.9 796.5,158.3 800.5,158.3 804.5,153.7 808.5,161.5 812.5,194.2 816.5,210.7 820.5,209.5 824.5,229.3 828.5,246.9 832.5,243.6 836.5,277.1 840.5,307.8 844.5,307.4 848.5,316.0 852.5,328.3 856.5,342.6 860.5,347.3 864.5,337.8 868.5,332.4 872.5,333.2 876.5,333.5 880.5,330.3 884.5,324.0 888.5,315.8 892.5,306.9 896.5,298.4 900.5,301.1 904.5,298.2 908.5,288.6 912.5,288.6 916.5,290.1 920.5,293.0 924.5,285.7 928.5,282.1 932.5,276.7 936.5,254.3 940.5,249.1 944.5,264.7 948.5,283.4 952.5,306.3 956.5,313.7 960.5,303.1 964.5,298.0 968.5,298.7 972.5,299.6 976.5,272.3 980.5,227.9 984.5,219.6 988.5,211.6 992.5,211.6 996.5,216.6 1000.5,172.7 1004.5,143.8 1008.5,148.3 1012.5,145.7 1016.5,182.4 1020.5,210.0 1024.5,197.9 1028.5,197.1 1032.5,188.3 1036.5,205.3 1040.5,238.2 1044.5,275.9 1048.5,270.0 1052.5,235.2 1056.5,233.5 1060.5,233.2 1064.5,237.4 1068.5,223.9 1072.5,202.6 1076.5,198.9 1080.5,201.9 1084.5,204.2 1088.5,204.9 1092.5,206.9 1096.5,221.0 1100.5,218.3 1104.5,206.8 1108.5,209.6 1112.5,211.5 1116.5,205.0 1120.5,219.2 1124.5,238.2 1128.5,252.2 1132.5,261.8 1136.5,241.4 1140.5,228.4 1144.5,222.2 1148.5,224.3 1152.5,242.0 1156.5,250.1 1160.5,249.8 1164.5,248.6 1168.5,248.6 1172.5,251.4 1176.5,253.3 1180.5,262.6 1184.5,275.0 1188.5,286.5 1192.5,302.2 1196.5,303.3 1200.5,299.1 1204.5,300.3 1208.5,297.1 1212.5,294.7 1216.5,292.7 1220.5,271.1 1224.5,241.8 1228.5,235.3 1232.5,245.3 1236.5,253.9 1240.5,244.4 1244.5,250.6 1248.5,263.6 1252.5,263.4 1256.5,266.0 1260.5,249.0 1264.5,241.8 1268.5,253.1 1272.5,251.8 1276.5,236.4 1280.5,237.5 1284.5,253.7 1288.5,247.2 1292.5,230.2 1296.5,232.1 1300.5,232.9 1304.5,206.1 1308.5,183.5 1312.5,206.3"/>
<line x1="1000.7" y1="104.3" x2="1420.8" y2="188.2" stroke="#f00" stroke-width="2.1" shape-rendering="crispEdges"/>
<line x1="880.0" y1="376.0" x2="1490.0" y2="285.0" stroke="#f00" stroke-width="2.1" shape-rendering="crispEdges"/>
<line x1="1192.0" y1="336.0" x2="1425.0" y2="167.5" stroke="#f00" stroke-width="2.1" shape-rendering="crispEdges"/>
<g filter="url(#sh)" fill="#f00" stroke="#f00" stroke-width="1" stroke-linejoin="round">
<path d="M705.6 24.6L833.4 379.2L826.7 377.3L841.1 389.7L844.4 371.0L840.4 376.7L714.4 21.4A4.7 4.7 0 0 0 705.6 24.6Z"/>
<path d="M1312.4 190.1L1336.8 264.5L1330.2 262.4L1344.1 275.3L1348.1 256.7L1343.9 262.3L1321.4 187.3A4.7 4.7 0 0 0 1312.4 190.1Z"/>
<path d="M1360.7 271.2L1381.9 218.5L1385.6 224.4L1383.3 205.5L1368.2 217.1L1375.0 215.6L1352.1 267.6A4.7 4.7 0 0 0 1360.7 271.2Z"/>
<path d="M1389.2 201.0L1521.1 450.9L1514.2 450.0L1530.2 460.3L1530.9 441.3L1527.7 447.5L1397.6 196.6A4.7 4.7 0 0 0 1389.2 201.0Z"/>
<path d="M1471.7 174.9L1601.1 469.0L1594.3 467.6L1609.5 479.0L1611.5 460.1L1607.9 466.1L1480.3 171.1A4.7 4.7 0 0 0 1471.7 174.9Z"/>
</g>
</g>
<g shape-rendering="crispEdges" fill="#000">
<rect x="1652" y="0" width="1" height="873"/>
<rect x="0" y="634" width="1653" height="1"/>
<rect x="0" y="636" width="1653" height="1"/>
<rect x="0" y="732" width="1653" height="1"/>
<rect x="0" y="734" width="1653" height="1"/>
<rect x="0" y="802" width="1653" height="1"/>
<rect x="0" y="804" width="1653" height="1"/>
<rect x="0" y="872" width="1653" height="1"/>
<rect x="1653" y="4" width="2" height="1"/>
<rect x="1653" y="37" width="2" height="1"/>
<rect x="1653" y="70" width="2" height="1"/>
<rect x="1653" y="103" width="2" height="1"/>
<rect x="1653" y="136" width="2" height="1"/>
<rect x="1653" y="169" width="2" height="1"/>
<rect x="1653" y="202" width="2" height="1"/>
<rect x="1653" y="235" width="2" height="1"/>
<rect x="1653" y="268" width="2" height="1"/>
<rect x="1653" y="301" width="2" height="1"/>
<rect x="1653" y="334" width="2" height="1"/>
<rect x="1653" y="367" width="2" height="1"/>
<rect x="1653" y="400" width="2" height="1"/>
<rect x="1653" y="433" width="2" height="1"/>
<rect x="1653" y="466" width="2" height="1"/>
<rect x="1653" y="499" width="2" height="1"/>
<rect x="1653" y="532" width="2" height="1"/>
<rect x="1653" y="565" width="2" height="1"/>
<rect x="1653" y="598" width="2" height="1"/>
<rect x="1653" y="631" width="2" height="1"/>
<rect x="1653" y="638" width="1" height="1"/>
<rect x="1653" y="685" width="1" height="1"/>
<rect x="1653" y="731" width="1" height="1"/>
<rect x="1653" y="736" width="1" height="1"/>
<rect x="1653" y="801" width="1" height="1"/>
<rect x="1653" y="806" width="1" height="1"/>
<rect x="1653" y="871" width="1" height="1"/>
<rect x="0" y="873" width="1" height="3"/>
<rect x="64" y="873" width="1" height="3"/>
<rect x="128" y="873" width="1" height="3"/>
<rect x="192" y="873" width="1" height="3"/>
<rect x="256" y="873" width="1" height="3"/>
<rect x="320" y="873" width="1" height="3"/>
<rect x="384" y="873" width="1" height="3"/>
<rect x="448" y="873" width="1" height="3"/>
<rect x="512" y="873" width="1" height="3"/>
<rect x="576" y="873" width="1" height="3"/>
<rect x="640" y="873" width="1" height="3"/>
<rect x="704" y="873" width="1" height="3"/>
<rect x="768" y="873" width="1" height="3"/>
<rect x="832" y="873" width="1" height="3"/>
<rect x="896" y="873" width="1" height="3"/>
<rect x="960" y="873" width="1" height="3"/>
<rect x="1024" y="873" width="1" height="3"/>
<rect x="1088" y="873" width="1" height="3"/>
<rect x="1152" y="873" width="1" height="3"/>
<rect x="1216" y="873" width="1" height="3"/>
<rect x="1280" y="873" width="1" height="3"/>
</g>
<g stroke="#000" stroke-width="1" stroke-dasharray="3,3" stroke-dashoffset="5" shape-rendering="crispEdges">
<line x1="0" y1="749.5" x2="1652" y2="749.5"/>
<line x1="0" y1="768.5" x2="1652" y2="768.5"/>
<line x1="0" y1="788.5" x2="1652" y2="788.5"/>
<line x1="0" y1="819.5" x2="1652" y2="819.5"/>
<line x1="0" y1="858.5" x2="1652" y2="858.5"/>
</g>
<text x="1658.0" y="8.3" font-size="9.8" fill="#000" text-anchor="start" textLength="28.3" lengthAdjust="spacingAndGlyphs">86.585</text>
<text x="1658.0" y="41.3" font-size="9.8" fill="#000" text-anchor="start" textLength="28.3" lengthAdjust="spacingAndGlyphs">86.350</text>
<text x="1658.0" y="74.3" font-size="9.8" fill="#000" text-anchor="start" textLength="28.3" lengthAdjust="spacingAndGlyphs">86.110</text>
<text x="1658.0" y="107.2" font-size="9.8" fill="#000" text-anchor="start" textLength="28.3" lengthAdjust="spacingAndGlyphs">85.875</text>
<text x="1658.0" y="140.2" font-size="9.8" fill="#000" text-anchor="start" textLength="28.3" lengthAdjust="spacingAndGlyphs">85.640</text>
<text x="1658.0" y="173.2" font-size="9.8" fill="#000" text-anchor="start" textLength="28.3" lengthAdjust="spacingAndGlyphs">85.405</text>
<text x="1658.0" y="206.2" font-size="9.8" fill="#000" text-anchor="start" textLength="28.3" lengthAdjust="spacingAndGlyphs">85.165</text>
<text x="1658.0" y="239.2" font-size="9.8" fill="#000" text-anchor="start" textLength="28.3" lengthAdjust="spacingAndGlyphs">84.930</text>
<text x="1658.0" y="272.1" font-size="9.8" fill="#000" text-anchor="start" textLength="28.3" lengthAdjust="spacingAndGlyphs">84.695</text>
<text x="1658.0" y="305.1" font-size="9.8" fill="#000" text-anchor="start" textLength="28.3" lengthAdjust="spacingAndGlyphs">84.460</text>
<text x="1658.0" y="338.1" font-size="9.8" fill="#000" text-anchor="start" textLength="28.3" lengthAdjust="spacingAndGlyphs">84.220</text>
<text x="1658.0" y="371.1" font-size="9.8" fill="#000" text-anchor="start" textLength="28.3" lengthAdjust="spacingAndGlyphs">83.985</text>
<text x="1658.0" y="404.1" font-size="9.8" fill="#000" text-anchor="start" textLength="28.3" lengthAdjust="spacingAndGlyphs">83.750</text>
<text x="1658.0" y="437.0" font-size="9.8" fill="#000" text-anchor="start" textLength="28.3" lengthAdjust="spacingAndGlyphs">83.515</text>
<text x="1658.0" y="470.0" font-size="9.8" fill="#000" text-anchor="start" textLength="28.3" lengthAdjust="spacingAndGlyphs">83.280</text>
<text x="1658.0" y="503.0" font-size="9.8" fill="#000" text-anchor="start" textLength="28.3" lengthAdjust="spacingAndGlyphs">83.040</text>
<text x="1658.0" y="536.0" font-size="9.8" fill="#000" text-anchor="start" textLength="28.3" lengthAdjust="spacingAndGlyphs">82.805</text>
<text x="1658.0" y="569.0" font-size="9.8" fill="#000" text-anchor="start" textLength="28.3" lengthAdjust="spacingAndGlyphs">82.570</text>
<text x="1658.0" y="601.9" font-size="9.8" fill="#000" text-anchor="start" textLength="28.3" lengthAdjust="spacingAndGlyphs">82.335</text>
<text x="1658.0" y="634.9" font-size="9.8" fill="#000" text-anchor="start" textLength="28.3" lengthAdjust="spacingAndGlyphs">82.095</text>
<rect x="1654" y="225" width="37" height="11" fill="#000" shape-rendering="crispEdges"/>
<text x="1658.0" y="234.0" font-size="9.8" fill="#fff" text-anchor="start" textLength="28.3" lengthAdjust="spacingAndGlyphs">84.973</text>
<text x="1656.2" y="646.8" font-size="9.8" fill="#000" text-anchor="start" textLength="27.9" lengthAdjust="spacingAndGlyphs">0.4085</text>
<text x="1656.2" y="688.6" font-size="9.8" fill="#000" text-anchor="start" textLength="17.7" lengthAdjust="spacingAndGlyphs">0.00</text>
<text x="1655.8" y="729.2" font-size="9.8" fill="#000" text-anchor="start" textLength="31.0" lengthAdjust="spacingAndGlyphs">-0.3942</text>
<text x="1656.5" y="745.2" font-size="9.8" fill="#000" text-anchor="start" textLength="15.0" lengthAdjust="spacingAndGlyphs">100</text>
<text x="1655.5" y="753.1" font-size="9.8" fill="#000" text-anchor="start" textLength="10.0" lengthAdjust="spacingAndGlyphs">80</text>
<text x="1655.5" y="771.9" font-size="9.8" fill="#000" text-anchor="start" textLength="10.0" lengthAdjust="spacingAndGlyphs">50</text>
<text x="1655.5" y="792.0" font-size="9.8" fill="#000" text-anchor="start" textLength="10.0" lengthAdjust="spacingAndGlyphs">20</text>
<text x="1656.5" y="799.2" font-size="9.8" fill="#000" text-anchor="start" textLength="5.0" lengthAdjust="spacingAndGlyphs">0</text>
<text x="1656.5" y="815.2" font-size="9.8" fill="#000" text-anchor="start" textLength="15.0" lengthAdjust="spacingAndGlyphs">100</text>
<text x="1655.5" y="823.1" font-size="9.8" fill="#000" text-anchor="start" textLength="10.0" lengthAdjust="spacingAndGlyphs">80</text>
<text x="1655.5" y="862.0" font-size="9.8" fill="#000" text-anchor="start" textLength="10.0" lengthAdjust="spacingAndGlyphs">20</text>
<text x="1656.5" y="869.3" font-size="9.8" fill="#000" text-anchor="start" textLength="5.0" lengthAdjust="spacingAndGlyphs">0</text>
<text x="-0.8" y="885.3" font-size="9.8" fill="#000" text-anchor="start" textLength="46.5" lengthAdjust="spacingAndGlyphs">2 Mar 2016</text>
<text x="63.2" y="885.3" font-size="9.8" fill="#000" text-anchor="start" textLength="49.6" lengthAdjust="spacingAndGlyphs">3 Mar 08:00</text>
<text x="127.2" y="885.3" font-size="9.8" fill="#000" text-anchor="start" textLength="49.6" lengthAdjust="spacingAndGlyphs">4 Mar 00:00</text>
<text x="191.2" y="885.3" font-size="9.8" fill="#000" text-anchor="start" textLength="49.6" lengthAdjust="spacingAndGlyphs">4 Mar 16:00</text>
<text x="255.2" y="885.3" font-size="9.8" fill="#000" text-anchor="start" textLength="49.6" lengthAdjust="spacingAndGlyphs">7 Mar 08:00</text>
<text x="319.2" y="885.3" font-size="9.8" fill="#000" text-anchor="start" textLength="49.6" lengthAdjust="spacingAndGlyphs">8 Mar 00:00</text>
<text x="383.2" y="885.3" font-size="9.8" fill="#000" text-anchor="start" textLength="49.6" lengthAdjust="spacingAndGlyphs">8 Mar 16:00</text>
<text x="447.2" y="885.3" font-size="9.8" fill="#000" text-anchor="start" textLength="49.6" lengthAdjust="spacingAndGlyphs">9 Mar 08:00</text>
<text x="511.2" y="885.3" font-size="9.8" fill="#000" text-anchor="start" textLength="54.5" lengthAdjust="spacingAndGlyphs">10 Mar 00:00</text>
<text x="575.2" y="885.3" font-size="9.8" fill="#000" text-anchor="start" textLength="54.5" lengthAdjust="spacingAndGlyphs">10 Mar 16:00</text>
<text x="639.2" y="885.3" font-size="9.8" fill="#000" text-anchor="start" textLength="54.5" lengthAdjust="spacingAndGlyphs">11 Mar 08:00</text>
<text x="703.2" y="885.3" font-size="9.8" fill="#000" text-anchor="start" textLength="54.5" lengthAdjust="spacingAndGlyphs">14 Mar 00:00</text>
<text x="767.2" y="885.3" font-size="9.8" fill="#000" text-anchor="start" textLength="54.5" lengthAdjust="spacingAndGlyphs">14 Mar 16:00</text>
<text x="831.2" y="885.3" font-size="9.8" fill="#000" text-anchor="start" textLength="54.5" lengthAdjust="spacingAndGlyphs">15 Mar 08:00</text>
<text x="895.2" y="885.3" font-size="9.8" fill="#000" text-anchor="start" textLength="54.5" lengthAdjust="spacingAndGlyphs">16 Mar 00:00</text>
<text x="959.2" y="885.3" font-size="9.8" fill="#000" text-anchor="start" textLength="54.5" lengthAdjust="spacingAndGlyphs">16 Mar 16:00</text>
<text x="1023.2" y="885.3" font-size="9.8" fill="#000" text-anchor="start" textLength="54.5" lengthAdjust="spacingAndGlyphs">17 Mar 08:00</text>
<text x="1087.2" y="885.3" font-size="9.8" fill="#000" text-anchor="start" textLength="54.5" lengthAdjust="spacingAndGlyphs">18 Mar 00:00</text>
<text x="1151.2" y="885.3" font-size="9.8" fill="#000" text-anchor="start" textLength="54.5" lengthAdjust="spacingAndGlyphs">18 Mar 16:00</text>
<text x="1215.2" y="885.3" font-size="9.8" fill="#000" text-anchor="start" textLength="54.5" lengthAdjust="spacingAndGlyphs">21 Mar 09:00</text>
<text x="1279.2" y="885.3" font-size="9.8" fill="#000" text-anchor="start" textLength="54.5" lengthAdjust="spacingAndGlyphs">22 Mar 01:00</text>
<path d="M3 6h7.4l-3.7 4z" fill="#000"/>
<text x="16.0" y="10.5" font-size="9.8" fill="#000" text-anchor="start" textLength="49.6" lengthAdjust="spacingAndGlyphs">AUDJPY,H1</text>
<text x="72.7" y="10.5" font-size="9.8" fill="#000" text-anchor="start" textLength="28.3" lengthAdjust="spacingAndGlyphs">85.329</text>
<text x="104.0" y="10.5" font-size="9.8" fill="#000" text-anchor="start" textLength="27.9" lengthAdjust="spacingAndGlyphs">85.372</text>
<text x="135.3" y="10.5" font-size="9.8" fill="#000" text-anchor="start" textLength="27.3" lengthAdjust="spacingAndGlyphs">84.971</text>
<text x="166.0" y="10.5" font-size="9.8" fill="#000" text-anchor="start" textLength="27.8" lengthAdjust="spacingAndGlyphs">84.973</text>
<g clip-path="url(#c1)">
<g shape-rendering="crispEdges">
<path d="M47 685h3v1h-3zM51 683h3v2h-3zM55 682h3v3h-3zM59 681h3v4h-3zM63 681h3v4h-3zM67 683h3v2h-3zM71 685h3v1h-3zM75 685h3v1h-3zM79 685h3v1h-3zM83 685h3v1h-3zM87 685h3v1h-3zM175 685h3v1h-3zM179 685h3v1h-3zM183 685h3v1h-3zM187 685h3v1h-3zM191 685h3v1h-3zM195 683h3v2h-3zM199 681h3v4h-3zM203 679h3v6h-3zM207 677h3v8h-3zM211 676h3v9h-3zM215 677h3v8h-3zM219 679h3v6h-3zM223 681h3v4h-3zM291 683h3v2h-3zM295 680h3v5h-3zM299 678h3v7h-3zM303 679h3v6h-3zM307 680h3v5h-3zM311 681h3v4h-3zM315 683h3v2h-3zM319 685h3v1h-3zM323 685h3v1h-3zM379 683h3v2h-3zM383 683h3v2h-3zM451 685h3v1h-3zM455 682h3v3h-3zM459 680h3v5h-3zM463 678h3v7h-3zM467 677h3v8h-3zM471 676h3v9h-3zM475 675h3v10h-3zM479 672h3v13h-3zM483 670h3v15h-3zM487 668h3v17h-3zM491 668h3v17h-3zM495 668h3v17h-3zM499 669h3v16h-3zM503 672h3v13h-3zM507 676h3v9h-3zM511 680h3v5h-3zM515 685h3v1h-3zM527 685h3v1h-3zM531 685h3v1h-3zM535 685h3v1h-3zM539 685h3v1h-3zM543 685h3v1h-3zM571 685h3v1h-3zM627 681h3v4h-3zM631 679h3v6h-3zM635 678h3v7h-3zM639 677h3v8h-3zM643 675h3v10h-3zM647 674h3v11h-3zM651 674h3v11h-3zM655 675h3v10h-3zM659 676h3v9h-3zM663 677h3v8h-3zM667 678h3v7h-3zM671 676h3v9h-3zM675 675h3v10h-3zM679 674h3v11h-3zM683 674h3v11h-3zM687 675h3v10h-3zM691 676h3v9h-3zM695 677h3v8h-3zM699 679h3v6h-3zM703 682h3v3h-3zM707 683h3v2h-3zM711 683h3v2h-3zM715 683h3v2h-3zM719 683h3v2h-3zM723 685h3v1h-3zM727 685h3v1h-3zM883 685h3v1h-3zM887 682h3v3h-3zM891 680h3v5h-3zM895 678h3v7h-3zM899 678h3v7h-3zM903 676h3v9h-3zM907 676h3v9h-3zM911 677h3v8h-3zM915 677h3v8h-3zM919 677h3v8h-3zM923 677h3v8h-3zM927 678h3v7h-3zM931 678h3v7h-3zM935 676h3v9h-3zM939 676h3v9h-3zM943 678h3v7h-3zM947 680h3v5h-3zM951 683h3v2h-3zM955 685h3v1h-3zM959 685h3v1h-3zM963 685h3v1h-3zM967 685h3v1h-3zM971 685h3v1h-3zM975 682h3v3h-3zM979 679h3v6h-3zM983 677h3v8h-3zM987 676h3v9h-3zM991 676h3v9h-3zM995 675h3v10h-3zM999 674h3v11h-3zM1003 673h3v12h-3zM1007 673h3v12h-3zM1011 674h3v11h-3zM1015 679h3v6h-3zM1019 682h3v3h-3zM1023 683h3v2h-3zM1027 685h3v1h-3zM1031 685h3v1h-3zM1075 685h3v1h-3zM1079 685h3v1h-3zM1083 685h3v1h-3zM1087 685h3v1h-3zM1091 685h3v1h-3zM1219 683h3v2h-3zM1223 681h3v4h-3zM1227 679h3v6h-3zM1231 679h3v6h-3zM1235 680h3v5h-3zM1239 679h3v6h-3zM1243 681h3v4h-3zM1247 682h3v3h-3zM1251 683h3v2h-3zM1255 683h3v2h-3zM1259 682h3v3h-3zM1263 683h3v2h-3zM1267 683h3v2h-3zM1271 683h3v2h-3zM1275 682h3v3h-3zM1279 683h3v2h-3zM1283 683h3v2h-3zM1287 683h3v2h-3zM1291 683h3v2h-3zM1295 683h3v2h-3zM1299 683h3v2h-3zM1303 681h3v4h-3zM1307 680h3v5h-3zM1311 682h3v3h-3z" fill="#008000"/>
<path d="M-1 685h3v5h-3zM3 685h3v5h-3zM7 685h3v5h-3zM11 685h3v5h-3zM15 685h3v5h-3zM19 685h3v5h-3zM23 685h3v5h-3zM27 685h3v5h-3zM31 685h3v5h-3zM35 685h3v4h-3zM39 685h3v3h-3zM43 685h3v2h-3zM91 685h3v2h-3zM95 685h3v2h-3zM99 685h3v3h-3zM103 685h3v3h-3zM107 685h3v4h-3zM111 685h3v4h-3zM115 685h3v4h-3zM119 685h3v5h-3zM123 685h3v5h-3zM127 685h3v5h-3zM131 685h3v6h-3zM135 685h3v7h-3zM139 685h3v6h-3zM143 685h3v5h-3zM147 685h3v4h-3zM151 685h3v3h-3zM155 685h3v2h-3zM159 685h3v2h-3zM163 685h3v2h-3zM167 685h3v2h-3zM171 685h3v2h-3zM227 685h3v2h-3zM231 685h3v4h-3zM235 685h3v5h-3zM239 685h3v6h-3zM243 685h3v6h-3zM247 685h3v7h-3zM251 685h3v7h-3zM255 685h3v8h-3zM259 685h3v9h-3zM263 685h3v10h-3zM267 685h3v10h-3zM271 685h3v9h-3zM275 685h3v8h-3zM279 685h3v6h-3zM283 685h3v5h-3zM287 685h3v3h-3zM327 685h3v5h-3zM331 685h3v8h-3zM335 685h3v12h-3zM339 685h3v13h-3zM343 685h3v11h-3zM347 685h3v10h-3zM351 685h3v10h-3zM355 685h3v10h-3zM359 685h3v9h-3zM363 685h3v8h-3zM367 685h3v7h-3zM371 685h3v5h-3zM375 685h3v3h-3zM387 685h3v2h-3zM391 685h3v3h-3zM395 685h3v3h-3zM399 685h3v2h-3zM403 685h3v2h-3zM407 685h3v2h-3zM411 685h3v2h-3zM415 685h3v3h-3zM419 685h3v3h-3zM423 685h3v5h-3zM427 685h3v5h-3zM431 685h3v4h-3zM435 685h3v3h-3zM439 685h3v2h-3zM443 685h3v2h-3zM447 685h3v2h-3zM519 685h3v2h-3zM523 685h3v2h-3zM547 685h3v2h-3zM551 685h3v3h-3zM555 685h3v5h-3zM559 685h3v5h-3zM563 685h3v4h-3zM567 685h3v2h-3zM575 685h3v2h-3zM579 685h3v7h-3zM583 685h3v11h-3zM587 685h3v17h-3zM591 685h3v18h-3zM595 685h3v16h-3zM599 685h3v12h-3zM603 685h3v10h-3zM607 685h3v9h-3zM611 685h3v8h-3zM615 685h3v6h-3zM619 685h3v4h-3zM623 685h3v2h-3zM731 685h3v2h-3zM735 685h3v7h-3zM739 685h3v10h-3zM743 685h3v13h-3zM747 685h3v13h-3zM751 685h3v12h-3zM755 685h3v12h-3zM759 685h3v13h-3zM763 685h3v14h-3zM767 685h3v15h-3zM771 685h3v14h-3zM775 685h3v13h-3zM779 685h3v11h-3zM783 685h3v10h-3zM787 685h3v9h-3zM791 685h3v6h-3zM795 685h3v5h-3zM799 685h3v4h-3zM803 685h3v4h-3zM807 685h3v4h-3zM811 685h3v5h-3zM815 685h3v6h-3zM819 685h3v6h-3zM823 685h3v8h-3zM827 685h3v9h-3zM831 685h3v10h-3zM835 685h3v11h-3zM839 685h3v11h-3zM843 685h3v11h-3zM847 685h3v11h-3zM851 685h3v11h-3zM855 685h3v11h-3zM859 685h3v10h-3zM863 685h3v8h-3zM867 685h3v6h-3zM871 685h3v4h-3zM875 685h3v3h-3zM879 685h3v2h-3zM1035 685h3v4h-3zM1039 685h3v7h-3zM1043 685h3v12h-3zM1047 685h3v11h-3zM1051 685h3v10h-3zM1055 685h3v8h-3zM1059 685h3v7h-3zM1063 685h3v5h-3zM1067 685h3v3h-3zM1071 685h3v2h-3zM1095 685h3v2h-3zM1099 685h3v2h-3zM1103 685h3v2h-3zM1107 685h3v2h-3zM1111 685h3v2h-3zM1115 685h3v2h-3zM1119 685h3v3h-3zM1123 685h3v4h-3zM1127 685h3v6h-3zM1131 685h3v6h-3zM1135 685h3v5h-3zM1139 685h3v5h-3zM1143 685h3v4h-3zM1147 685h3v4h-3zM1151 685h3v4h-3zM1155 685h3v4h-3zM1159 685h3v4h-3zM1163 685h3v4h-3zM1167 685h3v4h-3zM1171 685h3v4h-3zM1175 685h3v4h-3zM1179 685h3v4h-3zM1183 685h3v6h-3zM1187 685h3v6h-3zM1191 685h3v7h-3zM1195 685h3v7h-3zM1199 685h3v5h-3zM1203 685h3v5h-3zM1207 685h3v3h-3zM1211 685h3v3h-3zM1215 685h3v2h-3z" fill="#f00"/>
</g>
<path fill="none" stroke="#f00" stroke-width="1" shape-rendering="crispEdges" d="M0.0 644.5C1.7 644.8 5.8 645.7 10.0 646.5C14.2 647.3 20.4 648.4 25.0 649.5C29.6 650.6 33.3 652.6 37.5 653.0C41.7 653.4 45.8 652.6 50.0 652.0C54.2 651.4 58.3 650.2 62.5 649.5C66.7 648.8 70.8 647.9 75.0 647.5C79.2 647.1 83.3 646.7 87.5 647.0C91.7 647.3 95.8 648.7 100.0 649.5C104.2 650.3 108.3 651.0 112.5 652.0C116.7 653.0 120.8 654.2 125.0 655.5C129.2 656.8 133.3 658.2 137.5 659.5C141.7 660.8 145.8 662.8 150.0 663.5C154.2 664.2 157.5 663.9 162.5 664.0C167.5 664.1 175.0 664.1 180.0 664.0C185.0 663.9 189.2 664.0 192.5 663.5C195.8 663.0 197.1 662.2 200.0 661.0C202.9 659.8 206.7 657.8 210.0 656.5C213.3 655.2 217.1 653.8 220.0 653.0C222.9 652.2 224.6 651.8 227.5 652.0C230.4 652.2 234.2 653.3 237.5 654.5C240.8 655.7 244.2 657.4 247.5 659.0C250.8 660.6 254.2 662.2 257.5 664.0C260.8 665.8 264.2 667.8 267.5 669.5C270.8 671.2 274.2 673.2 277.5 674.5C280.8 675.8 284.2 676.8 287.5 677.0C290.8 677.2 294.2 676.4 297.5 675.5C300.8 674.6 304.2 672.5 307.5 671.5C310.8 670.5 314.6 669.9 317.5 669.5C320.4 669.1 322.5 668.6 325.0 669.0C327.5 669.4 330.0 670.7 332.5 672.0C335.0 673.3 337.5 675.3 340.0 677.0C342.5 678.7 345.0 680.3 347.5 682.0C350.0 683.7 352.5 685.4 355.0 687.0C357.5 688.6 360.0 690.2 362.5 691.5C365.0 692.8 367.5 693.8 370.0 694.5C372.5 695.2 375.0 695.9 377.5 696.0C380.0 696.1 382.1 695.1 385.0 695.0C387.9 694.9 391.7 695.4 395.0 695.5C398.3 695.6 401.7 695.3 405.0 695.5C408.3 695.7 412.0 696.2 415.0 696.5C418.0 696.8 420.0 696.8 423.0 697.5C426.0 698.2 429.7 700.1 433.0 701.0C436.3 701.9 439.7 702.9 443.0 703.0C446.3 703.1 449.7 702.3 453.0 701.5C456.3 700.7 459.7 699.7 463.0 698.0C466.3 696.3 469.7 693.7 473.0 691.5C476.3 689.3 480.1 687.6 483.0 685.0C485.9 682.4 488.0 678.8 490.5 676.0C493.0 673.2 495.5 670.8 498.0 668.5C500.5 666.2 503.0 663.6 505.5 662.0C508.0 660.4 510.1 659.6 513.0 659.0C515.9 658.4 519.2 658.6 523.0 658.5C526.8 658.4 531.3 658.4 535.5 658.5C539.7 658.6 543.8 658.5 548.0 659.0C552.2 659.5 556.8 661.0 560.5 661.5C564.2 662.0 567.6 661.7 570.5 662.0C573.4 662.3 575.5 662.4 578.0 663.5C580.5 664.6 583.0 666.4 585.5 668.5C588.0 670.6 590.5 673.5 593.0 676.0C595.5 678.5 598.0 681.4 600.5 683.5C603.0 685.6 605.5 687.1 608.0 688.5C610.5 689.9 613.0 691.1 615.5 692.0C618.0 692.9 620.5 694.0 623.0 694.0C625.5 694.0 628.0 693.0 630.5 692.0C633.0 691.0 635.5 689.7 638.0 688.0C640.5 686.3 643.0 684.0 645.5 682.0C648.0 680.0 650.5 677.8 653.0 676.0C655.5 674.2 658.0 672.5 660.5 671.0C663.0 669.5 665.5 668.2 668.0 667.0C670.5 665.8 673.0 664.8 675.5 663.5C678.0 662.2 680.5 660.4 683.0 659.0C685.5 657.6 688.0 656.3 690.5 655.0C693.0 653.7 695.1 652.0 698.0 651.0C700.9 650.0 704.7 649.7 708.0 649.0C711.3 648.3 714.7 647.5 718.0 647.0C721.3 646.5 725.3 646.1 728.0 646.0C730.7 645.9 731.9 645.8 734.0 646.5C736.1 647.2 738.2 648.6 740.5 650.0C742.8 651.4 745.5 653.2 748.0 655.0C750.5 656.8 753.0 659.0 755.5 661.0C758.0 663.0 760.5 664.9 763.0 667.0C765.5 669.1 768.0 671.3 770.5 673.5C773.0 675.7 775.5 678.1 778.0 680.0C780.5 681.9 783.0 683.8 785.5 685.0C788.0 686.2 790.1 686.2 793.0 687.0C795.9 687.8 799.7 689.2 803.0 690.0C806.3 690.8 809.7 691.0 813.0 692.0C816.3 693.0 819.7 694.6 823.0 696.0C826.3 697.4 830.1 698.9 833.0 700.5C835.9 702.1 838.3 704.1 840.5 705.5C842.7 706.9 843.8 707.4 846.0 709.0C848.2 710.6 851.0 713.3 853.5 715.0C856.0 716.7 858.5 717.9 861.0 719.0C863.5 720.1 866.0 720.8 868.5 721.5C871.0 722.2 873.5 722.9 876.0 723.0C878.5 723.1 881.0 722.5 883.5 722.0C886.0 721.5 888.1 721.0 891.0 720.0C893.9 719.0 897.7 717.5 901.0 716.0C904.3 714.5 907.7 712.7 911.0 711.0C914.3 709.3 917.7 707.8 921.0 706.0C924.3 704.2 928.1 702.2 931.0 700.5C933.9 698.8 936.0 697.2 938.5 696.0C941.0 694.8 943.5 693.8 946.0 693.0C948.5 692.2 950.6 691.8 953.5 691.5C956.4 691.2 960.2 691.0 963.5 691.0C966.8 691.0 970.6 692.2 973.5 691.5C976.4 690.8 978.5 688.3 981.0 687.0C983.5 685.7 986.0 684.8 988.5 683.5C991.0 682.2 993.5 680.7 996.0 679.0C998.5 677.3 1001.0 675.2 1003.5 673.5C1006.0 671.8 1008.5 670.2 1011.0 669.0C1013.5 667.8 1016.0 667.1 1018.5 666.5C1021.0 665.9 1023.5 665.7 1026.0 665.5C1028.5 665.3 1031.0 665.1 1033.5 665.5C1036.0 665.9 1038.5 666.9 1041.0 668.0C1043.5 669.1 1046.0 670.7 1048.5 672.0C1051.0 673.3 1053.5 674.8 1056.0 676.0C1058.5 677.2 1061.0 678.2 1063.5 679.0C1066.0 679.8 1067.7 680.2 1071.0 680.5C1074.3 680.8 1079.3 680.5 1083.5 680.5C1087.7 680.5 1091.8 680.4 1096.0 680.5C1100.2 680.6 1104.3 680.8 1108.5 681.0C1112.7 681.2 1117.2 680.8 1121.0 681.5C1124.8 682.2 1127.7 684.1 1131.0 685.0C1134.3 685.9 1137.7 686.7 1141.0 687.0C1144.3 687.3 1147.7 686.7 1151.0 687.0C1154.3 687.3 1157.7 688.4 1161.0 689.0C1164.3 689.6 1167.7 690.0 1171.0 690.5C1174.3 691.0 1177.7 691.2 1181.0 692.0C1184.3 692.8 1187.7 694.5 1191.0 695.5C1194.3 696.5 1197.7 697.2 1201.0 698.0C1204.3 698.8 1208.1 699.7 1211.0 700.0C1213.9 700.3 1216.0 700.5 1218.5 700.0C1221.0 699.5 1223.6 697.8 1226.0 697.0C1228.4 696.2 1231.0 695.7 1232.8 695.0C1234.6 694.3 1235.3 693.6 1237.0 692.9C1238.7 692.2 1240.8 691.2 1242.8 690.8C1244.8 690.4 1247.1 690.8 1249.0 690.4C1250.9 690.0 1252.0 689.0 1254.0 688.6C1256.0 688.2 1259.0 688.6 1261.2 688.3C1263.4 687.9 1264.9 686.9 1266.9 686.5C1268.9 686.1 1271.4 686.5 1273.3 686.1C1275.2 685.8 1276.5 684.8 1278.2 684.4C1279.9 684.0 1281.4 684.2 1283.2 684.0C1285.0 683.8 1286.4 683.5 1288.9 683.3C1291.4 683.1 1295.7 683.0 1298.0 682.6C1300.3 682.2 1301.3 681.7 1303.0 681.2C1304.7 680.7 1306.5 680.1 1308.0 679.8C1309.5 679.5 1311.3 679.4 1312.0 679.3"/>
<path fill="none" stroke="#00f" stroke-width="2" stroke-linejoin="round" shape-rendering="crispEdges" d="M0.0 646.5C3.5 647.0 9.2 647.2 15.0 648.5C20.8 649.8 20.3 650.4 25.0 652.0C29.7 653.6 30.9 654.7 35.0 655.5C39.1 656.3 39.0 656.1 42.5 655.5C46.0 654.9 45.9 654.4 50.0 653.0C54.1 651.6 55.3 651.1 60.0 649.5C64.7 647.9 65.3 646.7 70.0 646.0C74.7 645.3 75.3 645.9 80.0 646.5C84.7 647.1 84.8 647.3 90.0 648.5C95.2 649.7 96.7 649.6 102.5 651.5C108.3 653.4 108.6 654.3 115.0 656.5C121.4 658.7 124.2 658.3 130.0 661.0C135.8 663.7 135.3 666.6 140.0 668.0C144.7 669.4 144.2 667.8 150.0 667.0C155.8 666.2 158.0 665.1 165.0 664.5C172.0 663.9 173.6 664.9 180.0 664.5C186.4 664.1 187.8 664.4 192.5 663.0C197.2 661.6 196.5 661.3 200.0 658.5C203.5 655.7 204.6 653.5 207.5 651.0C210.4 648.5 209.6 648.7 212.5 648.0C215.4 647.3 217.1 647.3 220.0 648.0C222.9 648.7 222.1 648.9 225.0 651.0C227.9 653.1 229.0 654.2 232.5 657.0C236.0 659.8 235.9 660.3 240.0 663.0C244.1 665.7 245.3 666.0 250.0 668.5C254.7 671.0 255.9 670.9 260.0 673.5C264.1 676.1 264.6 677.4 267.5 679.5C270.4 681.6 269.6 681.9 272.5 682.5C275.4 683.1 276.5 682.2 280.0 682.0C283.5 681.8 284.2 683.2 287.5 681.5C290.8 679.8 291.1 677.9 294.0 674.5C296.9 671.1 296.9 669.0 300.0 667.0C303.1 665.0 304.0 666.2 307.5 666.0C311.0 665.8 311.1 665.4 315.0 666.0C318.9 666.6 320.5 666.2 324.0 668.5C327.5 670.8 327.2 672.3 330.0 676.0C332.8 679.7 332.5 680.8 336.0 684.5C339.5 688.2 341.1 689.3 345.0 692.0C348.9 694.7 349.2 694.2 352.5 696.0C355.8 697.8 354.3 698.7 359.0 699.5C363.7 700.3 367.8 700.8 372.5 699.5C377.2 698.2 376.3 695.3 379.0 694.0C381.7 692.7 382.0 693.4 384.0 694.0C386.0 694.6 383.8 696.0 387.5 696.5C391.2 697.0 395.3 696.0 400.0 696.0C404.7 696.0 404.0 695.7 407.5 696.5C411.0 697.3 411.4 698.3 415.0 699.5C418.6 700.7 419.4 700.2 423.0 701.5C426.6 702.8 426.4 704.5 430.5 705.0C434.6 705.5 435.8 704.2 440.5 703.5C445.2 702.8 446.4 703.8 450.5 702.0C454.6 700.2 454.5 699.1 458.0 696.0C461.5 692.9 462.0 691.8 465.5 688.5C469.0 685.2 469.5 685.5 473.0 682.0C476.5 678.5 477.0 678.4 480.5 673.5C484.0 668.6 484.5 665.7 488.0 661.0C491.5 656.3 492.6 656.4 495.5 653.5C498.4 650.6 498.2 649.7 500.5 648.5C502.8 647.3 502.8 647.5 505.5 648.5C508.2 649.5 509.1 650.7 512.0 653.0C514.9 655.3 514.9 657.2 518.0 658.5C521.1 659.8 522.0 658.9 525.5 658.5C529.0 658.1 528.7 657.4 533.0 657.0C537.3 656.6 539.9 656.1 544.0 657.0C548.1 657.9 547.2 659.0 550.5 661.0C553.8 663.0 554.5 664.5 558.0 665.5C561.5 666.5 562.6 666.4 565.5 665.5C568.4 664.6 567.8 661.6 570.5 661.5C573.2 661.4 574.3 661.6 577.0 665.0C579.7 668.4 579.7 671.1 582.0 676.0C584.3 680.9 584.4 681.6 587.0 686.0C589.6 690.4 589.9 692.4 593.0 695.0C596.1 697.6 597.0 696.2 600.5 697.0C604.0 697.8 604.5 698.1 608.0 698.5C611.5 698.9 612.0 699.3 615.5 698.5C619.0 697.7 619.5 697.9 623.0 695.0C626.5 692.1 627.0 690.2 630.5 686.0C634.0 681.8 634.5 680.5 638.0 677.0C641.5 673.5 642.0 673.6 645.5 671.0C649.0 668.4 649.5 668.1 653.0 666.0C656.5 663.9 656.8 663.3 660.5 662.0C664.2 660.7 665.5 662.1 669.0 660.5C672.5 658.9 672.0 658.1 675.5 655.0C679.0 651.9 679.9 649.6 684.0 647.0C688.1 644.4 689.1 644.7 693.0 644.0C696.9 643.3 697.6 643.3 700.5 644.0C703.4 644.7 703.2 646.3 705.5 647.0C707.8 647.7 708.2 647.5 710.5 647.0C712.8 646.5 712.6 645.7 715.5 645.0C718.4 644.3 719.5 643.6 723.0 644.0C726.5 644.4 727.6 644.3 730.5 646.5C733.4 648.7 732.4 649.1 735.5 653.5C738.6 657.9 739.9 661.2 744.0 665.5C748.1 669.8 749.1 669.4 753.0 672.0C756.9 674.6 757.0 673.5 760.5 676.5C764.0 679.5 764.5 681.4 768.0 685.0C771.5 688.6 772.0 689.7 775.5 692.0C779.0 694.3 779.5 694.5 783.0 695.0C786.5 695.5 787.0 694.5 790.5 694.0C794.0 693.5 793.9 693.2 798.0 693.0C802.1 692.8 803.9 692.1 808.0 693.0C812.1 693.9 812.0 695.1 815.5 697.0C819.0 698.9 820.1 699.1 823.0 701.0C825.9 702.9 825.7 703.8 828.0 705.0C830.3 706.2 830.7 704.1 833.0 706.0C835.3 707.9 835.7 710.4 838.0 713.0C840.3 715.6 841.1 715.6 843.0 717.0C844.9 718.4 844.1 717.6 846.0 719.0C847.9 720.4 848.4 721.2 851.0 723.0C853.6 724.8 853.5 725.6 857.0 726.5C860.5 727.4 862.1 727.4 866.0 727.0C869.9 726.6 870.0 726.4 873.5 725.0C877.0 723.6 876.9 723.3 881.0 721.0C885.1 718.7 886.3 717.9 891.0 715.0C895.7 712.1 896.3 711.5 901.0 708.5C905.7 705.5 906.9 704.3 911.0 702.0C915.1 699.7 915.0 700.1 918.5 698.5C922.0 696.9 922.5 696.6 926.0 695.0C929.5 693.4 930.6 693.4 933.5 691.5C936.4 689.6 936.2 688.4 938.5 687.0C940.8 685.6 941.2 685.7 943.5 685.5C945.8 685.3 946.2 685.0 948.5 686.0C950.8 687.0 950.6 689.1 953.5 690.0C956.4 690.9 957.1 689.9 961.0 690.0C964.9 690.1 966.5 691.2 970.0 690.5C973.5 689.8 973.4 689.5 976.0 687.0C978.6 684.5 978.4 682.6 981.0 680.0C983.6 677.4 984.1 677.4 987.0 676.0C989.9 674.6 990.8 675.4 993.5 674.0C996.2 672.6 996.2 672.6 998.5 670.0C1000.8 667.4 1001.2 665.6 1003.5 663.0C1005.8 660.4 1006.5 660.2 1008.5 659.0C1010.5 657.8 1010.0 657.6 1012.0 658.0C1014.0 658.4 1014.3 659.3 1017.0 660.5C1019.7 661.7 1020.0 661.8 1023.5 663.0C1027.0 664.2 1028.2 663.4 1032.0 665.5C1035.8 667.6 1037.0 668.5 1040.0 672.0C1043.0 675.5 1042.4 678.2 1045.0 680.5C1047.6 682.8 1047.3 681.3 1051.0 682.0C1054.7 682.7 1057.5 683.1 1061.0 683.5C1064.5 683.9 1063.4 684.1 1066.0 683.5C1068.6 682.9 1069.1 681.8 1072.0 681.0C1074.9 680.2 1074.1 680.5 1078.5 680.0C1082.9 679.5 1086.9 678.8 1091.0 679.0C1095.1 679.2 1089.6 680.5 1096.0 681.0C1102.4 681.5 1112.1 680.4 1118.5 681.0C1124.9 681.6 1120.6 682.1 1123.5 683.5C1126.4 684.9 1125.8 686.2 1131.0 687.0C1136.2 687.8 1140.8 686.3 1146.0 687.0C1151.2 687.7 1149.8 689.0 1153.5 690.0C1157.2 691.0 1157.9 691.0 1162.0 691.5C1166.1 692.0 1167.2 691.4 1171.0 692.0C1174.8 692.6 1175.0 692.8 1178.5 694.0C1182.0 695.2 1182.5 695.4 1186.0 697.0C1189.5 698.6 1189.4 700.1 1193.5 701.0C1197.6 701.9 1200.3 700.8 1203.5 701.0C1206.7 701.2 1204.7 701.9 1207.0 702.0C1209.3 702.1 1210.8 702.3 1213.5 701.5C1216.2 700.7 1216.2 700.2 1218.5 698.5C1220.8 696.8 1221.2 695.9 1223.5 694.0C1225.8 692.1 1226.4 691.7 1228.5 690.5C1230.6 689.3 1230.7 689.4 1232.5 689.0C1234.3 688.6 1234.8 689.3 1236.4 688.6C1238.0 687.9 1236.6 686.7 1239.2 686.0C1241.8 685.3 1245.1 685.5 1247.4 685.8C1249.7 686.1 1247.0 686.9 1249.0 687.2C1251.0 687.5 1253.5 687.6 1256.0 686.9C1258.5 686.2 1256.1 685.1 1259.8 684.4C1263.5 683.7 1268.7 684.3 1271.8 684.0C1274.9 683.7 1271.8 683.3 1273.0 683.0C1274.2 682.7 1275.4 683.0 1276.8 682.6C1278.2 682.2 1278.2 681.8 1279.0 681.5C1279.8 681.2 1279.6 681.1 1280.4 681.5C1281.2 681.9 1280.9 682.7 1282.5 683.0C1284.1 683.3 1285.7 683.1 1287.4 682.8C1289.1 682.4 1288.4 681.8 1289.6 681.5C1290.8 681.2 1291.4 681.6 1292.4 681.4C1293.4 681.2 1292.0 680.9 1293.8 680.8C1295.5 680.7 1297.9 681.4 1299.9 680.8C1301.9 680.2 1301.1 679.4 1302.3 678.3C1303.5 677.2 1304.0 676.7 1305.2 675.9C1306.4 675.1 1305.6 675.1 1307.3 674.8C1309.0 674.5 1311.4 674.8 1312.6 674.8"/>
</g>
<text x="4.0" y="648.8" font-size="9.8" fill="#000" text-anchor="start" textLength="190.0" lengthAdjust="spacingAndGlyphs">MACD(12,26,9) 0.0890 0.0576 0.0313 0.0000</text>
<g clip-path="url(#c2)">
<polyline fill="none" stroke="#0d85ff" stroke-width="2" stroke-linejoin="round" shape-rendering="crispEdges" points="0.0,764.0 5.0,759.8 11.0,759.0 19.0,760.0 25.0,762.0 31.0,759.8 37.5,762.0 45.0,757.0 51.0,757.0 57.5,754.0 65.0,752.8 69.0,753.5 72.5,759.8 77.5,759.0 82.5,756.0 89.0,756.0 92.5,759.8 97.5,759.8 101.0,757.8 105.0,761.0 110.0,760.0 112.5,759.0 116.0,762.8 120.0,762.0 132.5,763.0 136.0,767.0 140.0,769.0 145.0,762.8 152.5,761.5 157.5,759.5 164.0,759.0 172.5,762.0 180.0,759.0 185.0,759.8 192.5,757.8 200.0,752.0 205.0,750.0 209.0,749.0 212.5,754.8 216.0,755.0 222.5,759.8 226.0,762.0 229.0,764.8 250.0,764.8 254.0,767.0 261.0,767.8 266.0,773.5 274.0,773.5 276.0,767.8 280.0,765.0 284.0,769.0 287.5,766.0 294.0,758.0 300.0,757.0 305.0,761.0 309.0,764.0 315.0,762.8 324.0,764.0 327.5,771.5 334.0,777.8 339.0,777.8 345.0,771.5 349.0,772.8 354.0,775.0 360.0,775.8 365.0,774.0 370.0,773.5 375.0,767.8 380.0,766.0 384.0,771.0 389.0,776.0 394.0,771.5 397.5,769.8 402.5,771.5 407.5,773.5 415.0,774.5 420.0,773.5 423.0,774.5 428.0,777.0 438.0,772.8 445.5,774.0 453.0,773.5 460.5,763.5 468.0,762.0 475.5,761.0 482.0,755.0 485.5,754.0 488.5,750.0 493.0,753.5 500.5,752.8 504.0,758.5 510.5,762.8 517.0,766.0 523.0,761.5 529.0,759.8 535.5,760.5 544.0,759.8 548.0,764.5 553.0,765.0 558.0,767.0 564.0,762.8 568.0,757.8 573.0,763.5 577.0,767.8 580.5,773.5 585.5,776.5 589.0,778.5 598.0,772.8 608.0,772.0 613.0,774.0 620.5,767.8 625.5,767.0 629.0,763.0 638.0,764.0 643.0,761.0 649.0,762.0 654.0,759.8 660.5,760.8 664.0,759.8 669.0,762.0 673.0,758.0 680.5,756.5 685.5,757.0 692.0,756.0 698.0,756.5 704.0,761.0 712.0,757.0 720.5,757.0 723.0,756.0 728.0,757.8 733.0,763.5 737.0,768.5 742.0,770.0 744.0,772.0 748.0,769.0 753.0,770.0 760.5,770.0 764.0,774.8 773.0,774.5 775.5,773.5 780.5,775.0 787.0,772.0 793.0,771.0 798.0,772.0 804.0,768.5 808.0,772.8 812.0,776.5 819.0,777.0 824.0,781.0 829.0,778.5 833.0,778.5 836.0,784.8 843.0,784.0 846.0,785.0 851.0,785.0 856.0,787.0 865.0,783.0 872.0,782.8 877.0,780.8 882.0,780.0 888.5,776.5 892.0,775.8 896.0,772.8 900.5,774.8 905.0,769.8 910.0,770.8 920.0,770.8 924.0,767.8 928.5,769.8 932.0,767.8 936.5,760.0 940.5,766.0 945.0,767.0 948.5,771.0 953.0,773.5 957.0,773.0 962.0,771.0 966.0,770.8 972.0,772.0 976.0,762.0 980.0,759.8 984.0,760.0 988.5,758.5 992.0,762.8 996.0,762.8 1000.0,756.0 1012.0,756.0 1017.0,767.0 1021.0,764.8 1030.0,764.8 1033.0,764.0 1036.5,769.8 1040.5,769.8 1045.0,777.0 1048.5,769.0 1057.0,768.5 1060.0,767.8 1065.0,769.8 1069.0,766.0 1080.0,765.8 1082.0,767.0 1092.0,766.5 1097.0,769.8 1102.0,767.0 1112.0,766.5 1116.5,765.8 1120.5,771.5 1125.0,772.0 1128.5,774.8 1132.0,773.5 1136.0,769.8 1141.0,769.8 1145.0,767.8 1150.0,771.5 1158.5,771.5 1162.0,772.8 1168.5,772.8 1171.0,771.5 1180.0,776.0 1184.0,777.0 1192.0,780.8 1196.0,777.8 1202.0,777.8 1205.0,777.0 1212.0,776.5 1216.5,775.0 1220.5,765.0 1226.0,762.8 1228.5,763.5 1233.0,767.0 1237.0,766.5 1241.0,763.5 1245.0,769.8 1248.5,769.0 1252.2,771.0 1255.0,769.7 1259.5,764.7 1261.2,764.7 1264.3,767.7 1266.8,767.7 1268.5,766.6 1272.4,766.0 1274.7,764.7 1277.5,764.7 1279.1,766.0 1283.0,769.0 1285.3,769.0 1288.7,766.0 1291.0,764.7 1293.2,764.7 1296.5,767.0 1299.0,765.9 1304.7,759.6 1308.6,759.6 1312.2,767.2"/>
</g>
<text x="4.0" y="746.7" font-size="9.8" fill="#000" text-anchor="start" textLength="67.7" lengthAdjust="spacingAndGlyphs">RSI(14) 52.0075</text>
<g clip-path="url(#c3)">
<polyline fill="none" stroke="#f00" stroke-width="1" shape-rendering="crispEdges" points="0.0,838.5 7.5,837.8 14.0,829.0 21.0,822.0 27.5,822.0 35.0,823.5 44.0,825.0 51.0,821.0 59.0,816.5 66.0,814.0 71.0,816.0 77.5,822.8 82.5,827.8 89.0,821.5 93.0,818.5 99.0,822.8 105.0,826.5 112.5,829.0 120.0,832.8 127.5,836.5 134.0,840.0 139.0,846.5 143.0,851.0 149.0,841.5 155.0,826.5 161.0,816.5 167.5,811.5 175.0,812.8 182.5,816.5 187.5,821.5 194.0,832.8 197.5,836.5 202.5,830.0 209.0,817.8 214.0,813.5 220.0,817.8 226.0,829.0 232.5,841.5 239.0,854.0 244.0,856.5 250.0,852.8 260.0,849.5 265.0,852.0 271.0,857.8 275.0,859.5 280.0,847.8 286.0,831.5 292.5,822.8 300.0,815.0 305.0,812.8 310.0,817.8 316.0,827.8 322.5,835.0 329.0,846.5 334.0,857.8 339.0,864.0 344.0,862.0 350.0,855.0 356.0,851.5 362.5,852.8 369.0,849.0 375.0,837.8 381.0,824.0 386.0,824.0 391.0,837.8 396.0,850.0 401.0,849.0 407.5,846.0 412.5,852.8 419.0,859.5 423.0,861.0 432.0,862.0 437.0,857.8 443.0,846.5 449.0,836.5 457.0,829.0 464.0,820.0 470.5,816.5 478.0,815.0 487.0,812.0 495.5,810.0 500.5,810.0 507.0,814.5 512.0,822.8 517.0,839.0 520.5,849.0 524.0,856.0 528.0,850.0 533.0,836.5 538.0,825.0 544.0,817.8 549.0,819.0 554.0,829.0 559.0,837.8 563.5,844.0 568.0,836.5 572.5,829.0 576.0,825.0 579.0,834.0 583.0,846.5 588.0,857.8 592.5,863.5 598.0,860.0 604.0,854.0 610.5,847.8 617.0,839.0 623.0,826.5 628.0,815.0 633.0,810.8 640.5,812.0 648.0,814.0 655.5,815.0 663.0,817.0 670.5,820.0 678.0,821.0 685.5,820.0 693.0,819.5 700.5,817.0 705.5,821.5 712.0,828.5 717.0,825.0 722.0,817.8 728.0,811.5 733.0,817.8 737.0,826.5 740.5,840.0 744.0,854.0 748.0,861.0 753.0,860.0 759.0,855.0 765.5,857.8 772.0,862.0 778.0,863.0 784.0,861.0 790.5,854.0 797.0,842.8 803.0,829.0 808.0,822.0 812.0,827.8 815.5,841.5 820.5,856.5 825.5,861.5 833.0,862.8 840.5,864.0 846.0,866.0 853.5,867.0 860.0,864.0 867.0,856.5 875.0,846.5 882.0,834.0 890.0,822.8 897.0,813.5 902.0,812.8 907.0,817.8 915.0,824.0 922.0,828.5 928.5,826.5 935.0,820.0 940.5,817.8 945.0,821.5 950.0,836.5 955.0,851.5 960.0,858.5 966.0,854.0 972.0,849.0 978.5,841.5 985.0,826.5 990.5,817.8 996.0,820.0 1001.0,822.8 1006.0,819.0 1011.0,817.8 1016.0,825.0 1021.0,839.0 1027.0,851.5 1033.5,852.8 1040.0,856.5 1046.0,862.8 1050.0,860.0 1055.0,846.5 1061.0,835.0 1067.0,830.0 1073.5,825.0 1080.0,816.5 1084.0,815.0 1090.0,822.8 1096.0,829.0 1103.5,834.0 1111.0,831.0 1117.0,829.0 1123.5,836.5 1128.5,847.8 1133.5,857.0 1138.5,855.0 1145.0,844.0 1151.0,836.0 1157.0,841.5 1163.5,850.0 1171.0,852.0 1178.5,852.8 1186.0,859.0 1191.0,862.8 1196.0,859.0 1202.0,851.5 1208.5,846.0 1216.0,839.0 1222.0,830.0 1228.5,820.0 1233.0,818.5 1238.5,821.5 1240.0,823.0 1244.0,825.0 1247.8,826.8 1251.0,833.8 1255.0,841.0 1260.0,847.6 1264.7,845.0 1268.3,840.5 1272.2,839.3 1275.3,837.4 1280.0,832.6 1284.0,829.0 1288.7,832.3 1292.6,834.0 1296.5,834.0 1300.4,831.5 1304.8,826.8 1308.3,821.7 1311.4,820.0"/>
<polyline fill="none" stroke="#00f" stroke-width="1" shape-rendering="crispEdges" points="0.0,841.5 5.0,836.5 12.5,820.0 16.0,822.0 20.0,820.0 25.0,823.5 31.0,822.0 37.5,826.5 44.0,824.8 49.0,819.0 54.0,821.0 60.0,814.0 66.0,812.8 71.0,819.0 75.0,825.0 80.5,831.5 86.0,816.5 91.0,820.0 96.0,826.5 102.5,827.0 110.0,831.5 115.0,834.8 120.0,831.5 124.5,839.0 130.0,837.8 136.0,847.8 140.5,857.8 145.0,845.0 151.0,821.5 157.5,816.5 165.0,809.5 171.0,812.8 177.5,816.5 185.0,819.0 189.0,830.0 192.5,840.0 197.5,836.5 204.0,817.8 209.0,810.0 215.0,816.5 221.0,826.5 227.5,841.5 232.5,851.5 237.0,859.0 244.0,854.0 252.5,849.5 260.0,850.0 267.5,857.8 272.5,864.8 276.0,852.8 281.0,831.5 287.5,821.5 294.0,817.8 299.0,812.0 304.0,812.8 311.0,825.0 319.0,831.5 324.0,844.0 329.0,857.8 332.5,864.0 337.5,864.0 344.0,856.5 349.0,850.0 352.5,849.5 357.5,855.0 362.5,854.0 369.0,845.0 375.0,830.0 380.5,816.0 385.0,829.0 389.0,844.0 392.5,854.8 397.5,850.0 402.5,843.5 406.0,845.0 411.0,854.0 417.5,862.0 423.0,862.0 428.0,862.8 433.0,860.0 439.0,849.0 445.5,836.0 453.0,831.0 460.5,821.5 467.0,816.5 475.5,816.0 483.0,812.0 489.0,810.8 493.0,811.5 498.0,809.5 503.0,812.0 508.0,820.0 512.0,834.0 515.5,850.0 520.5,861.0 524.0,854.0 528.0,841.5 532.0,829.0 537.0,820.0 543.0,815.0 548.0,820.0 553.0,831.5 557.0,841.5 560.5,846.0 565.0,841.5 567.5,824.0 570.5,821.5 574.0,826.5 578.0,841.5 582.0,855.0 585.5,861.5 589.0,864.8 594.0,861.5 600.5,854.0 607.0,848.5 613.0,841.5 618.0,829.0 623.0,814.0 627.0,810.8 633.0,810.8 640.5,814.5 647.0,814.0 652.0,813.5 657.0,816.0 663.0,817.8 669.0,824.0 673.0,819.5 677.0,822.8 680.5,819.0 684.0,821.0 692.0,819.5 699.0,816.5 704.0,822.8 709.0,829.8 713.0,829.0 717.0,819.0 720.5,812.0 724.0,812.8 729.0,813.5 733.0,824.0 737.0,839.0 740.5,854.0 745.0,865.0 749.0,859.0 757.0,854.8 763.0,859.0 769.0,862.0 773.0,864.0 780.5,861.5 787.0,856.5 792.0,846.5 798.0,834.0 804.0,814.5 808.0,826.5 812.0,846.5 817.0,860.0 823.0,861.5 828.0,862.8 835.5,863.5 842.0,865.0 846.0,866.5 852.0,867.8 857.0,864.0 863.5,856.5 871.0,847.8 878.5,835.0 886.0,822.8 892.0,814.0 896.5,809.5 902.0,816.0 908.5,824.0 913.5,825.0 921.0,831.0 926.0,825.0 931.0,819.5 936.0,816.0 941.0,817.8 946.0,834.0 951.0,852.8 956.0,862.0 961.0,855.0 967.0,849.0 972.0,848.5 977.0,836.5 982.0,820.0 987.0,814.5 992.0,820.0 996.5,825.0 1002.0,819.0 1008.0,816.0 1013.5,824.0 1018.5,841.5 1024.0,856.0 1031.0,850.0 1037.0,854.0 1041.0,862.8 1045.0,870.0 1050.0,854.0 1055.0,836.0 1060.0,831.0 1066.0,830.0 1072.0,821.5 1077.0,812.8 1082.0,815.0 1087.0,825.0 1093.5,830.0 1098.5,834.0 1103.5,835.0 1108.5,829.0 1116.0,827.8 1121.0,836.5 1125.0,846.5 1128.5,858.5 1132.0,860.0 1136.0,856.5 1141.0,841.5 1145.0,833.5 1150.0,835.0 1156.0,846.5 1162.0,852.8 1168.5,851.5 1176.0,852.0 1182.0,857.8 1189.0,864.0 1195.0,856.5 1201.0,849.0 1207.0,843.5 1213.5,839.0 1220.0,826.5 1225.0,817.0 1228.5,815.0 1232.0,821.5 1237.0,824.5 1240.0,824.0 1244.0,826.8 1248.2,831.0 1250.2,838.5 1252.2,846.0 1256.5,850.7 1259.6,845.6 1263.5,839.7 1267.5,837.4 1272.6,840.0 1275.7,831.0 1280.4,825.2 1284.0,832.3 1288.3,838.5 1293.4,833.4 1298.0,829.5 1301.2,827.5 1304.4,820.5 1308.3,813.4 1309.9,818.0 1312.6,823.6"/>
</g>
<text x="4.0" y="816.7" font-size="9.8" fill="#000" text-anchor="start" textLength="122.0" lengthAdjust="spacingAndGlyphs">Stoch(8,3,3) 71.3026 78.6192</text>
</svg></body></html>
